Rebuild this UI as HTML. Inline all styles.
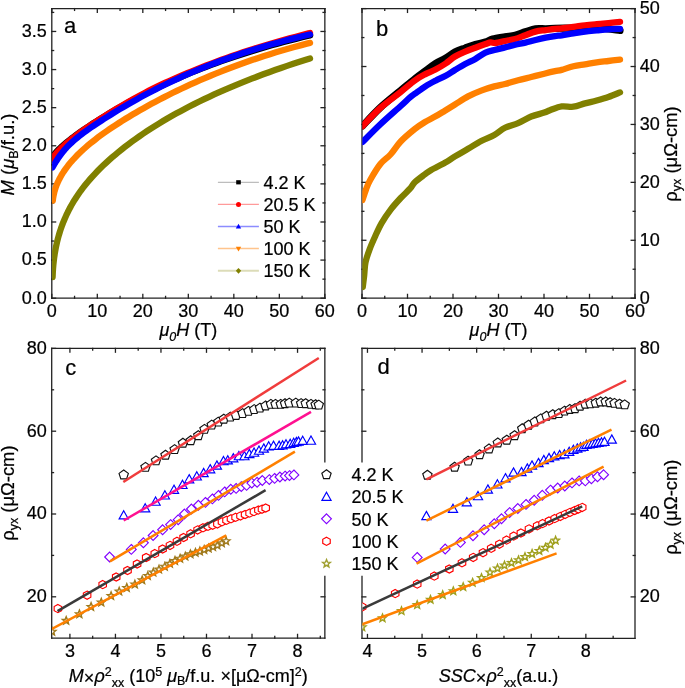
<!DOCTYPE html><html><head><meta charset="utf-8"><style>html,body{margin:0;padding:0;background:#fff;}svg{display:block;will-change:transform;}text{font-family:"Liberation Sans", sans-serif;fill:#000;stroke:#000;stroke-width:0.22px;}</style></head><body>
<svg width="685" height="688" viewBox="0 0 685 688">
<rect width="685" height="688" fill="#fff"/>
<g stroke="#222" stroke-width="1.3" fill="none" stroke-linecap="square">
<line x1="51.8" y1="8.6" x2="324.85" y2="8.6"/><line x1="51.8" y1="298.2" x2="324.85" y2="298.2"/><line x1="51.8" y1="8.6" x2="51.8" y2="298.2"/><line x1="324.85" y1="8.6" x2="324.85" y2="298.2"/>
<line x1="362" y1="8.6" x2="635" y2="8.6"/><line x1="362" y1="298.2" x2="635" y2="298.2"/><line x1="362" y1="8.6" x2="362" y2="298.2"/><line x1="635" y1="8.6" x2="635" y2="298.2"/>
<line x1="51.7" y1="348.4" x2="324.85" y2="348.4"/><line x1="51.7" y1="638.2" x2="324.85" y2="638.2"/><line x1="51.7" y1="348.4" x2="51.7" y2="638.2"/><line x1="324.85" y1="348.4" x2="324.85" y2="461.8"/><line x1="324.85" y1="576.4" x2="324.85" y2="638.2"/>
<line x1="362" y1="348.4" x2="635" y2="348.4"/><line x1="362" y1="638.3" x2="635" y2="638.3"/><line x1="362" y1="348.4" x2="362" y2="461.8"/><line x1="362" y1="576.4" x2="362" y2="638.3"/><line x1="635" y1="348.4" x2="635" y2="638.3"/>
<line x1="51.8" y1="298.2" x2="51.8" y2="294.4"/><line x1="51.8" y1="8.6" x2="51.8" y2="12.4"/><line x1="97.31" y1="298.2" x2="97.31" y2="294.4"/><line x1="97.31" y1="8.6" x2="97.31" y2="12.4"/><line x1="142.82" y1="298.2" x2="142.82" y2="294.4"/><line x1="142.82" y1="8.6" x2="142.82" y2="12.4"/><line x1="188.32" y1="298.2" x2="188.32" y2="294.4"/><line x1="188.32" y1="8.6" x2="188.32" y2="12.4"/><line x1="233.83" y1="298.2" x2="233.83" y2="294.4"/><line x1="233.83" y1="8.6" x2="233.83" y2="12.4"/><line x1="279.34" y1="298.2" x2="279.34" y2="294.4"/><line x1="279.34" y1="8.6" x2="279.34" y2="12.4"/><line x1="324.85" y1="298.2" x2="324.85" y2="294.4"/><line x1="324.85" y1="8.6" x2="324.85" y2="12.4"/><line x1="74.55" y1="298.2" x2="74.55" y2="296.4"/><line x1="74.55" y1="8.6" x2="74.55" y2="10.4"/><line x1="120.06" y1="298.2" x2="120.06" y2="296.4"/><line x1="120.06" y1="8.6" x2="120.06" y2="10.4"/><line x1="165.57" y1="298.2" x2="165.57" y2="296.4"/><line x1="165.57" y1="8.6" x2="165.57" y2="10.4"/><line x1="211.08" y1="298.2" x2="211.08" y2="296.4"/><line x1="211.08" y1="8.6" x2="211.08" y2="10.4"/><line x1="256.59" y1="298.2" x2="256.59" y2="296.4"/><line x1="256.59" y1="8.6" x2="256.59" y2="10.4"/><line x1="302.1" y1="298.2" x2="302.1" y2="296.4"/><line x1="302.1" y1="8.6" x2="302.1" y2="10.4"/>
<line x1="51.8" y1="298.2" x2="55.6" y2="298.2"/><line x1="324.85" y1="298.2" x2="321.05" y2="298.2"/><line x1="51.8" y1="260.09" x2="55.6" y2="260.09"/><line x1="324.85" y1="260.09" x2="321.05" y2="260.09"/><line x1="51.8" y1="221.99" x2="55.6" y2="221.99"/><line x1="324.85" y1="221.99" x2="321.05" y2="221.99"/><line x1="51.8" y1="183.88" x2="55.6" y2="183.88"/><line x1="324.85" y1="183.88" x2="321.05" y2="183.88"/><line x1="51.8" y1="145.78" x2="55.6" y2="145.78"/><line x1="324.85" y1="145.78" x2="321.05" y2="145.78"/><line x1="51.8" y1="107.67" x2="55.6" y2="107.67"/><line x1="324.85" y1="107.67" x2="321.05" y2="107.67"/><line x1="51.8" y1="69.57" x2="55.6" y2="69.57"/><line x1="324.85" y1="69.57" x2="321.05" y2="69.57"/><line x1="51.8" y1="31.46" x2="55.6" y2="31.46"/><line x1="324.85" y1="31.46" x2="321.05" y2="31.46"/><line x1="51.8" y1="279.15" x2="53.6" y2="279.15"/><line x1="324.85" y1="279.15" x2="323.05" y2="279.15"/><line x1="51.8" y1="241.04" x2="53.6" y2="241.04"/><line x1="324.85" y1="241.04" x2="323.05" y2="241.04"/><line x1="51.8" y1="202.94" x2="53.6" y2="202.94"/><line x1="324.85" y1="202.94" x2="323.05" y2="202.94"/><line x1="51.8" y1="164.83" x2="53.6" y2="164.83"/><line x1="324.85" y1="164.83" x2="323.05" y2="164.83"/><line x1="51.8" y1="126.73" x2="53.6" y2="126.73"/><line x1="324.85" y1="126.73" x2="323.05" y2="126.73"/><line x1="51.8" y1="88.62" x2="53.6" y2="88.62"/><line x1="324.85" y1="88.62" x2="323.05" y2="88.62"/><line x1="51.8" y1="50.52" x2="53.6" y2="50.52"/><line x1="324.85" y1="50.52" x2="323.05" y2="50.52"/><line x1="51.8" y1="12.41" x2="53.6" y2="12.41"/><line x1="324.85" y1="12.41" x2="323.05" y2="12.41"/>
<line x1="362" y1="298.2" x2="362" y2="294.4"/><line x1="362" y1="8.6" x2="362" y2="12.4"/><line x1="407.5" y1="298.2" x2="407.5" y2="294.4"/><line x1="407.5" y1="8.6" x2="407.5" y2="12.4"/><line x1="453" y1="298.2" x2="453" y2="294.4"/><line x1="453" y1="8.6" x2="453" y2="12.4"/><line x1="498.5" y1="298.2" x2="498.5" y2="294.4"/><line x1="498.5" y1="8.6" x2="498.5" y2="12.4"/><line x1="544" y1="298.2" x2="544" y2="294.4"/><line x1="544" y1="8.6" x2="544" y2="12.4"/><line x1="589.5" y1="298.2" x2="589.5" y2="294.4"/><line x1="589.5" y1="8.6" x2="589.5" y2="12.4"/><line x1="635" y1="298.2" x2="635" y2="294.4"/><line x1="635" y1="8.6" x2="635" y2="12.4"/><line x1="384.75" y1="298.2" x2="384.75" y2="296.4"/><line x1="384.75" y1="8.6" x2="384.75" y2="10.4"/><line x1="430.25" y1="298.2" x2="430.25" y2="296.4"/><line x1="430.25" y1="8.6" x2="430.25" y2="10.4"/><line x1="475.75" y1="298.2" x2="475.75" y2="296.4"/><line x1="475.75" y1="8.6" x2="475.75" y2="10.4"/><line x1="521.25" y1="298.2" x2="521.25" y2="296.4"/><line x1="521.25" y1="8.6" x2="521.25" y2="10.4"/><line x1="566.75" y1="298.2" x2="566.75" y2="296.4"/><line x1="566.75" y1="8.6" x2="566.75" y2="10.4"/><line x1="612.25" y1="298.2" x2="612.25" y2="296.4"/><line x1="612.25" y1="8.6" x2="612.25" y2="10.4"/>
<line x1="362" y1="298.2" x2="365.8" y2="298.2"/><line x1="635" y1="298.2" x2="631.2" y2="298.2"/><line x1="362" y1="240.28" x2="365.8" y2="240.28"/><line x1="635" y1="240.28" x2="631.2" y2="240.28"/><line x1="362" y1="182.36" x2="365.8" y2="182.36"/><line x1="635" y1="182.36" x2="631.2" y2="182.36"/><line x1="362" y1="124.44" x2="365.8" y2="124.44"/><line x1="635" y1="124.44" x2="631.2" y2="124.44"/><line x1="362" y1="66.52" x2="365.8" y2="66.52"/><line x1="635" y1="66.52" x2="631.2" y2="66.52"/><line x1="362" y1="8.6" x2="365.8" y2="8.6"/><line x1="635" y1="8.6" x2="631.2" y2="8.6"/><line x1="362" y1="269.24" x2="363.8" y2="269.24"/><line x1="635" y1="269.24" x2="633.2" y2="269.24"/><line x1="362" y1="211.32" x2="363.8" y2="211.32"/><line x1="635" y1="211.32" x2="633.2" y2="211.32"/><line x1="362" y1="153.4" x2="363.8" y2="153.4"/><line x1="635" y1="153.4" x2="633.2" y2="153.4"/><line x1="362" y1="95.48" x2="363.8" y2="95.48"/><line x1="635" y1="95.48" x2="633.2" y2="95.48"/><line x1="362" y1="37.56" x2="363.8" y2="37.56"/><line x1="635" y1="37.56" x2="633.2" y2="37.56"/>
<line x1="69.91" y1="638.2" x2="69.91" y2="634.4"/><line x1="69.91" y1="348.4" x2="69.91" y2="352.2"/><line x1="115.44" y1="638.2" x2="115.44" y2="634.4"/><line x1="115.44" y1="348.4" x2="115.44" y2="352.2"/><line x1="160.96" y1="638.2" x2="160.96" y2="634.4"/><line x1="160.96" y1="348.4" x2="160.96" y2="352.2"/><line x1="206.49" y1="638.2" x2="206.49" y2="634.4"/><line x1="206.49" y1="348.4" x2="206.49" y2="352.2"/><line x1="252.01" y1="638.2" x2="252.01" y2="634.4"/><line x1="252.01" y1="348.4" x2="252.01" y2="352.2"/><line x1="297.54" y1="638.2" x2="297.54" y2="634.4"/><line x1="297.54" y1="348.4" x2="297.54" y2="352.2"/><line x1="92.67" y1="638.2" x2="92.67" y2="636.4"/><line x1="92.67" y1="348.4" x2="92.67" y2="350.2"/><line x1="138.2" y1="638.2" x2="138.2" y2="636.4"/><line x1="138.2" y1="348.4" x2="138.2" y2="350.2"/><line x1="183.72" y1="638.2" x2="183.72" y2="636.4"/><line x1="183.72" y1="348.4" x2="183.72" y2="350.2"/><line x1="229.25" y1="638.2" x2="229.25" y2="636.4"/><line x1="229.25" y1="348.4" x2="229.25" y2="350.2"/><line x1="274.77" y1="638.2" x2="274.77" y2="636.4"/><line x1="274.77" y1="348.4" x2="274.77" y2="350.2"/><line x1="320.3" y1="638.2" x2="320.3" y2="636.4"/><line x1="320.3" y1="348.4" x2="320.3" y2="350.2"/>
<line x1="51.7" y1="596.8" x2="55.5" y2="596.8"/><line x1="324.85" y1="596.8" x2="321.05" y2="596.8"/><line x1="51.7" y1="514" x2="55.5" y2="514"/><line x1="51.7" y1="431.2" x2="55.5" y2="431.2"/><line x1="324.85" y1="431.2" x2="321.05" y2="431.2"/><line x1="51.7" y1="348.4" x2="55.5" y2="348.4"/><line x1="324.85" y1="348.4" x2="321.05" y2="348.4"/><line x1="51.7" y1="555.4" x2="53.5" y2="555.4"/><line x1="51.7" y1="472.6" x2="53.5" y2="472.6"/><line x1="51.7" y1="389.8" x2="53.5" y2="389.8"/><line x1="324.85" y1="389.8" x2="323.05" y2="389.8"/>
<line x1="367.46" y1="638.3" x2="367.46" y2="634.5"/><line x1="367.46" y1="348.4" x2="367.46" y2="352.2"/><line x1="422.06" y1="638.3" x2="422.06" y2="634.5"/><line x1="422.06" y1="348.4" x2="422.06" y2="352.2"/><line x1="476.66" y1="638.3" x2="476.66" y2="634.5"/><line x1="476.66" y1="348.4" x2="476.66" y2="352.2"/><line x1="531.26" y1="638.3" x2="531.26" y2="634.5"/><line x1="531.26" y1="348.4" x2="531.26" y2="352.2"/><line x1="585.86" y1="638.3" x2="585.86" y2="634.5"/><line x1="585.86" y1="348.4" x2="585.86" y2="352.2"/><line x1="394.76" y1="638.3" x2="394.76" y2="636.5"/><line x1="394.76" y1="348.4" x2="394.76" y2="350.2"/><line x1="449.36" y1="638.3" x2="449.36" y2="636.5"/><line x1="449.36" y1="348.4" x2="449.36" y2="350.2"/><line x1="503.96" y1="638.3" x2="503.96" y2="636.5"/><line x1="503.96" y1="348.4" x2="503.96" y2="350.2"/><line x1="558.56" y1="638.3" x2="558.56" y2="636.5"/><line x1="558.56" y1="348.4" x2="558.56" y2="350.2"/><line x1="613.16" y1="638.3" x2="613.16" y2="636.5"/><line x1="613.16" y1="348.4" x2="613.16" y2="350.2"/>
<line x1="362" y1="596.89" x2="365.8" y2="596.89"/><line x1="635" y1="596.89" x2="631.2" y2="596.89"/><line x1="635" y1="514.06" x2="631.2" y2="514.06"/><line x1="362" y1="431.23" x2="365.8" y2="431.23"/><line x1="635" y1="431.23" x2="631.2" y2="431.23"/><line x1="362" y1="348.4" x2="365.8" y2="348.4"/><line x1="635" y1="348.4" x2="631.2" y2="348.4"/><line x1="635" y1="555.47" x2="633.2" y2="555.47"/><line x1="635" y1="472.64" x2="633.2" y2="472.64"/><line x1="362" y1="389.81" x2="363.8" y2="389.81"/><line x1="635" y1="389.81" x2="633.2" y2="389.81"/>
</g>
<g>
<text x="46.8" y="303.5" text-anchor="end" font-size="18">0.0</text>
<text x="46.8" y="265.39" text-anchor="end" font-size="18">0.5</text>
<text x="46.8" y="227.29" text-anchor="end" font-size="18">1.0</text>
<text x="46.8" y="189.18" text-anchor="end" font-size="18">1.5</text>
<text x="46.8" y="151.08" text-anchor="end" font-size="18">2.0</text>
<text x="46.8" y="112.97" text-anchor="end" font-size="18">2.5</text>
<text x="46.8" y="74.87" text-anchor="end" font-size="18">3.0</text>
<text x="46.8" y="36.76" text-anchor="end" font-size="18">3.5</text>
<text x="51.8" y="317.3" text-anchor="middle" font-size="18">0</text>
<text x="362" y="317.3" text-anchor="middle" font-size="18">0</text>
<text x="97.31" y="317.3" text-anchor="middle" font-size="18">10</text>
<text x="407.5" y="317.3" text-anchor="middle" font-size="18">10</text>
<text x="142.82" y="317.3" text-anchor="middle" font-size="18">20</text>
<text x="453" y="317.3" text-anchor="middle" font-size="18">20</text>
<text x="188.32" y="317.3" text-anchor="middle" font-size="18">30</text>
<text x="498.5" y="317.3" text-anchor="middle" font-size="18">30</text>
<text x="233.83" y="317.3" text-anchor="middle" font-size="18">40</text>
<text x="544" y="317.3" text-anchor="middle" font-size="18">40</text>
<text x="279.34" y="317.3" text-anchor="middle" font-size="18">50</text>
<text x="589.5" y="317.3" text-anchor="middle" font-size="18">50</text>
<text x="324.85" y="317.3" text-anchor="middle" font-size="18">60</text>
<text x="635" y="317.3" text-anchor="middle" font-size="18">60</text>
<text x="639.7" y="303.5" text-anchor="start" font-size="18">0</text>
<text x="639.7" y="245.58" text-anchor="start" font-size="18">10</text>
<text x="639.7" y="187.66" text-anchor="start" font-size="18">20</text>
<text x="639.7" y="129.74" text-anchor="start" font-size="18">30</text>
<text x="639.7" y="71.82" text-anchor="start" font-size="18">40</text>
<text x="639.7" y="13.9" text-anchor="start" font-size="18">50</text>
<text x="46.8" y="602.1" text-anchor="end" font-size="18">20</text>
<text x="639.7" y="602.19" text-anchor="start" font-size="18">20</text>
<text x="46.8" y="519.3" text-anchor="end" font-size="18">40</text>
<text x="639.7" y="519.36" text-anchor="start" font-size="18">40</text>
<text x="46.8" y="436.5" text-anchor="end" font-size="18">60</text>
<text x="639.7" y="436.53" text-anchor="start" font-size="18">60</text>
<text x="46.8" y="353.7" text-anchor="end" font-size="18">80</text>
<text x="639.7" y="353.7" text-anchor="start" font-size="18">80</text>
<text x="69.91" y="657.1" text-anchor="middle" font-size="18">3</text>
<text x="115.44" y="657.1" text-anchor="middle" font-size="18">4</text>
<text x="160.96" y="657.1" text-anchor="middle" font-size="18">5</text>
<text x="206.49" y="657.1" text-anchor="middle" font-size="18">6</text>
<text x="252.01" y="657.1" text-anchor="middle" font-size="18">7</text>
<text x="297.54" y="657.1" text-anchor="middle" font-size="18">8</text>
<text x="367.46" y="657.2" text-anchor="middle" font-size="18">4</text>
<text x="422.06" y="657.2" text-anchor="middle" font-size="18">5</text>
<text x="476.66" y="657.2" text-anchor="middle" font-size="18">6</text>
<text x="531.26" y="657.2" text-anchor="middle" font-size="18">7</text>
<text x="585.86" y="657.2" text-anchor="middle" font-size="18">8</text>
</g>
<text x="64.1" y="32.9" text-anchor="start" font-size="22">a</text>
<text x="376.1" y="35.6" text-anchor="start" font-size="22">b</text>
<text x="65.3" y="374.6" text-anchor="start" font-size="22">c</text>
<text x="377.5" y="373.8" text-anchor="start" font-size="22">d</text>
<text x="188.33" y="336" text-anchor="middle" font-size="18"><tspan font-style="italic">&#956;</tspan><tspan font-style="italic" font-size="12.5" dy="4.5">0</tspan><tspan font-style="italic" dy="-4.5">H</tspan> (T)</text>
<text x="498.5" y="336" text-anchor="middle" font-size="18"><tspan font-style="italic">&#956;</tspan><tspan font-style="italic" font-size="12.5" dy="4.5">0</tspan><tspan font-style="italic" dy="-4.5">H</tspan> (T)</text>
<text transform="translate(14.2,154.5) rotate(-90)" text-anchor="middle" font-size="18.4"><tspan font-style="italic">M</tspan> (<tspan font-style="italic">&#956;</tspan><tspan font-size="12.5" dy="3.5">B</tspan><tspan dy="-3.5">/f.u.)</tspan></text>
<text transform="translate(14.1,493.1) rotate(-90)" text-anchor="middle" font-size="18.4">&#961;<tspan font-size="12.5" dy="3.5">yx</tspan><tspan dy="-3.5"> (&#956;&#937;-cm)</tspan></text>
<text transform="translate(677.3,154) rotate(-90)" text-anchor="middle" font-size="18.4">&#961;<tspan font-size="12.5" dy="3.5">yx</tspan><tspan dy="-3.5"> (&#956;&#937;-cm)</tspan></text>
<text transform="translate(677.3,507.2) rotate(-90)" text-anchor="middle" font-size="18.4">&#961;<tspan font-size="12.5" dy="3.5">yx</tspan><tspan dy="-3.5"> (&#956;&#937;-cm)</tspan></text>
<text x="188.28" y="681.6" text-anchor="middle" font-size="18"><tspan font-style="italic">M</tspan><tspan dy="2">&#215;</tspan><tspan font-style="italic" dy="-2">&#961;</tspan><tspan font-size="12.5" dy="-6">2</tspan><tspan font-size="12.5" dy="11.5">xx</tspan><tspan dy="-5.5"> (10</tspan><tspan font-size="12.5" dy="-6">5</tspan><tspan dy="6"> </tspan><tspan font-style="italic">&#956;</tspan><tspan font-size="12.5" dy="3.5">B</tspan><tspan dy="-3.5">/f.u. &#215;[&#956;&#937;-cm]</tspan><tspan font-size="12.5" dy="-6">2</tspan><tspan dy="6">)</tspan></text>
<text x="498.5" y="681.6" text-anchor="middle" font-size="18"><tspan font-style="italic">SSC</tspan><tspan dy="2">&#215;</tspan><tspan font-style="italic" dy="-2">&#961;</tspan><tspan font-size="12.5" dy="-6">2</tspan><tspan font-size="12.5" dy="11.5">xx</tspan><tspan dy="-5.5">(a.u.)</tspan></text>
<g clip-path="url(#clipA)">
<clipPath id="clipA"><rect x="52.1" y="8.6" width="273.05" height="289.6"/></clipPath>
<path d="M52.5,158.53 L52.54,158.1 L52.66,157.62 L52.86,157.08 L53.14,156.5 L53.5,155.87 L53.94,155.18 L54.46,154.46 L55.06,153.68 L55.74,152.86 L56.5,151.99 L57.34,151.08 L58.26,150.13 L59.26,149.13 L60.34,148.1 L61.5,147.02 L62.74,145.91 L64.06,144.75 L65.46,143.56 L66.94,142.34 L68.5,141.08 L70.14,139.78 L71.86,138.45 L73.66,137.09 L75.54,135.69 L77.5,134.26 L79.54,132.8 L81.66,131.31 L83.86,129.78 L86.14,128.23 L88.5,126.64 L90.94,125.03 L93.46,123.38 L96.06,121.71 L98.74,120.01 L101.5,118.28 L104.34,116.53 L107.26,114.75 L110.26,112.94 L113.34,111.11 L116.5,109.26 L119.74,107.4 L123.06,105.51 L126.46,103.6 L129.94,101.69 L133.5,99.76 L137.14,97.81 L140.86,95.86 L144.66,93.9 L148.54,91.93 L152.5,89.96 L156.54,87.99 L160.66,86.01 L164.86,84.04 L169.14,82.06 L173.5,80.09 L177.94,78.13 L182.46,76.17 L187.06,74.22 L191.74,72.28 L196.5,70.36 L201.34,68.45 L206.26,66.55 L211.26,64.67 L216.34,62.8 L221.5,60.96 L226.74,59.13 L232.06,57.32 L237.46,55.53 L242.94,53.76 L248.5,52 L254.14,50.27 L259.86,48.55 L265.66,46.86 L271.54,45.19 L277.5,43.54 L283.54,41.91 L289.66,40.3 L295.86,38.71 L302.14,37.15 L308.5,35.61 L310,35.25" fill="none" stroke="#000" stroke-width="6.6" stroke-linecap="round" stroke-linejoin="round"/>
<path d="M52.5,159.48 L52.54,159.11 L52.66,158.67 L52.86,158.17 L53.14,157.61 L53.5,156.99 L53.94,156.32 L54.46,155.59 L55.06,154.8 L55.74,153.96 L56.5,153.07 L57.34,152.13 L58.26,151.13 L59.26,150.09 L60.34,149.01 L61.5,147.87 L62.74,146.7 L64.06,145.47 L65.46,144.21 L66.94,142.91 L68.5,141.57 L70.14,140.2 L71.86,138.79 L73.66,137.35 L75.54,135.89 L77.5,134.39 L79.54,132.87 L81.66,131.33 L83.86,129.77 L86.14,128.18 L88.5,126.57 L90.94,124.93 L93.46,123.26 L96.06,121.57 L98.74,119.84 L101.5,118.08 L104.34,116.29 L107.26,114.46 L110.26,112.6 L113.34,110.71 L116.5,108.8 L119.74,106.86 L123.06,104.9 L126.46,102.93 L129.94,100.94 L133.5,98.94 L137.14,96.94 L140.86,94.93 L144.66,92.92 L148.54,90.91 L152.5,88.91 L156.54,86.92 L160.66,84.94 L164.86,82.97 L169.14,81 L173.5,79.05 L177.94,77.11 L182.46,75.17 L187.06,73.23 L191.74,71.31 L196.5,69.38 L201.34,67.46 L206.26,65.55 L211.26,63.63 L216.34,61.73 L221.5,59.83 L226.74,57.94 L232.06,56.06 L237.46,54.2 L242.94,52.36 L248.5,50.53 L254.14,48.73 L259.86,46.94 L265.66,45.18 L271.54,43.44 L277.5,41.73 L283.54,40.03 L289.66,38.35 L295.86,36.69 L302.14,35.04 L308.5,33.41 L310,33.03" fill="none" stroke="#ff0000" stroke-width="6.3" stroke-linecap="round" stroke-linejoin="round"/>
<path d="M52.5,167.46 L52.54,167.39 L52.66,167.16 L52.86,166.8 L53.14,166.29 L53.5,165.66 L53.94,164.9 L54.46,164.02 L55.06,163.03 L55.74,161.94 L56.5,160.75 L57.34,159.46 L58.26,158.09 L59.26,156.64 L60.34,155.13 L61.5,153.57 L62.74,151.98 L64.06,150.38 L65.46,148.77 L66.94,147.17 L68.5,145.56 L70.14,143.96 L71.86,142.36 L73.66,140.75 L75.54,139.14 L77.5,137.51 L79.54,135.88 L81.66,134.24 L83.86,132.59 L86.14,130.92 L88.5,129.24 L90.94,127.53 L93.46,125.81 L96.06,124.07 L98.74,122.3 L101.5,120.5 L104.34,118.68 L107.26,116.83 L110.26,114.96 L113.34,113.05 L116.5,111.12 L119.74,109.17 L123.06,107.2 L126.46,105.21 L129.94,103.21 L133.5,101.19 L137.14,99.16 L140.86,97.11 L144.66,95.06 L148.54,93 L152.5,90.93 L156.54,88.86 L160.66,86.79 L164.86,84.72 L169.14,82.65 L173.5,80.59 L177.94,78.53 L182.46,76.48 L187.06,74.44 L191.74,72.41 L196.5,70.39 L201.34,68.39 L206.26,66.41 L211.26,64.44 L216.34,62.5 L221.5,60.57 L226.74,58.67 L232.06,56.79 L237.46,54.93 L242.94,53.1 L248.5,51.29 L254.14,49.51 L259.86,47.76 L265.66,46.03 L271.54,44.33 L277.5,42.66 L283.54,41.02 L289.66,39.42 L295.86,37.84 L302.14,36.3 L308.5,34.79 L310,34.45" fill="none" stroke="#0000ff" stroke-width="6.3" stroke-linecap="round" stroke-linejoin="round"/>
<path d="M52.8,200.66 L53.06,198.52 L53.4,196.4 L53.82,194.28 L54.32,192.18 L54.9,190.09 L55.55,188.01 L56.29,185.93 L57.11,183.87 L58.01,181.81 L58.99,179.76 L60.05,177.72 L61.19,175.68 L62.41,173.65 L63.71,171.62 L65.09,169.6 L66.55,167.58 L68.08,165.57 L69.7,163.55 L71.4,161.54 L73.18,159.53 L75.04,157.53 L76.98,155.52 L79,153.51 L81.1,151.5 L83.28,149.49 L85.54,147.48 L87.88,145.47 L90.29,143.45 L92.79,141.43 L95.37,139.4 L98.03,137.37 L100.77,135.34 L103.59,133.3 L106.49,131.25 L109.47,129.2 L112.53,127.13 L115.67,125.06 L118.89,122.99 L122.18,120.9 L125.56,118.8 L129.02,116.69 L132.56,114.57 L136.18,112.44 L139.88,110.3 L143.66,108.15 L147.52,106 L151.46,103.84 L155.48,101.68 L159.58,99.52 L163.75,97.36 L168.01,95.19 L172.35,93.03 L176.77,90.88 L181.27,88.72 L185.85,86.58 L190.51,84.44 L195.25,82.31 L200.07,80.19 L204.97,78.08 L209.95,75.98 L215,73.9 L220.14,71.84 L225.36,69.79 L230.66,67.76 L236.04,65.75 L241.5,63.76 L247.04,61.8 L252.66,59.85 L258.36,57.94 L264.14,56.05 L270,54.18 L275.93,52.35 L281.95,50.55 L288.05,48.78 L294.23,47.04 L300.49,45.34 L306.83,43.67 L310,42.86" fill="none" stroke="#ff8000" stroke-width="6.3" stroke-linecap="round" stroke-linejoin="round"/>
<path d="M52.6,277.18 L52.77,273.04 L53.01,268.98 L53.34,264.98 L53.75,261.05 L54.23,257.18 L54.8,253.38 L55.45,249.64 L56.17,245.95 L56.98,242.33 L57.86,238.76 L58.83,235.24 L59.88,231.78 L61,228.37 L62.21,225.01 L63.5,221.69 L64.86,218.42 L66.31,215.2 L67.84,212.02 L69.44,208.88 L71.13,205.78 L72.9,202.71 L74.74,199.68 L76.67,196.69 L78.68,193.73 L80.76,190.8 L82.93,187.9 L85.18,185.03 L87.5,182.18 L89.91,179.36 L92.39,176.56 L94.96,173.78 L97.61,171.02 L100.33,168.28 L103.14,165.55 L106.03,162.84 L108.99,160.14 L112.04,157.45 L115.17,154.77 L118.37,152.1 L121.66,149.45 L125.03,146.8 L128.47,144.17 L132,141.55 L135.61,138.94 L139.29,136.34 L143.06,133.76 L146.91,131.19 L150.83,128.63 L154.84,126.09 L158.92,123.56 L163.09,121.05 L167.34,118.55 L171.66,116.07 L176.07,113.6 L180.56,111.15 L185.12,108.71 L189.77,106.29 L194.5,103.89 L199.3,101.5 L204.19,99.13 L209.16,96.78 L214.2,94.45 L219.33,92.13 L224.54,89.83 L229.82,87.56 L235.19,85.3 L240.63,83.06 L246.16,80.84 L251.77,78.64 L257.45,76.46 L263.22,74.3 L269.07,72.17 L274.99,70.05 L281,67.96 L287.09,65.88 L293.25,63.83 L299.5,61.81 L305.83,59.8 L310,58.51" fill="none" stroke="#808000" stroke-width="6.3" stroke-linecap="round" stroke-linejoin="round"/>
</g>
<clipPath id="clipB"><rect x="362.3" y="8.6" width="273" height="289.6"/></clipPath>
<g clip-path="url(#clipB)">
<path d="M362.5,126 C365.48,122.92 374.03,113.42 380.4,107.5 C386.77,101.58 394.9,95.33 400.7,90.5 C406.5,85.67 411.08,81.75 415.2,78.5 C419.32,75.25 422.02,73.5 425.4,71 C428.78,68.5 432.12,65.65 435.5,63.5 C438.88,61.35 442.45,60.02 445.7,58.1 C448.95,56.18 451.75,53.68 455,52 C458.25,50.32 461.8,49.27 465.2,48 C468.6,46.73 472.02,45.4 475.4,44.4 C478.78,43.4 482.62,42.9 485.5,42 C488.38,41.1 489.45,39.87 492.7,39 C495.95,38.13 501.25,37.43 505,36.8 C508.75,36.17 511.8,36.03 515.2,35.2 C518.6,34.37 522.02,32.87 525.4,31.8 C528.78,30.73 532.12,29.3 535.5,28.8 C538.88,28.3 542.45,28.87 545.7,28.8 C548.95,28.73 550.38,28.53 555,28.4 C559.62,28.27 568.4,28.15 573.4,28 C578.4,27.85 580.57,27.5 585,27.5 C589.43,27.5 594.17,27.5 600,28 C605.83,28.5 616.67,30.08 620,30.5" fill="none" stroke="#000" stroke-width="7.2" stroke-linecap="round" stroke-linejoin="round"/>
<path d="M362.5,126.2 C365.48,123.15 374.03,113.6 380.4,107.9 C386.77,102.2 394.9,96.62 400.7,92 C406.5,87.38 411.08,83.18 415.2,80.2 C419.32,77.22 422.02,75.88 425.4,74.1 C428.78,72.32 432.12,71.27 435.5,69.5 C438.88,67.73 442.45,65.67 445.7,63.5 C448.95,61.33 451.75,58.48 455,56.5 C458.25,54.52 461.8,53.07 465.2,51.6 C468.6,50.13 472.02,48.95 475.4,47.7 C478.78,46.45 482.97,44.98 485.5,44.1 C488.03,43.22 488.9,42.58 490.6,42.4 C492.3,42.22 493.3,43.23 495.7,43 C498.1,42.77 501.75,41.67 505,41 C508.25,40.33 511.8,39.97 515.2,39 C518.6,38.03 522.02,36.43 525.4,35.2 C528.78,33.97 532.12,32.45 535.5,31.6 C538.88,30.75 542.45,30.57 545.7,30.1 C548.95,29.63 552.33,29.1 555,28.8 C557.67,28.5 558.63,28.62 561.7,28.3 C564.77,27.98 569.52,27.38 573.4,26.9 C577.28,26.42 581.12,25.85 585,25.4 C588.88,24.95 592.8,24.58 596.7,24.2 C600.6,23.82 604.52,23.5 608.4,23.1 C612.28,22.7 618.07,22.02 620,21.8" fill="none" stroke="#ff0000" stroke-width="6.3" stroke-linecap="round" stroke-linejoin="round"/>
<path d="M362.5,142 C365.48,139.05 374.03,130.3 380.4,124.3 C386.77,118.3 395.77,110.48 400.7,106 C405.63,101.52 407.58,99.48 410,97.4 C412.42,95.32 412.63,95.35 415.2,93.5 C417.77,91.65 422.02,88.43 425.4,86.3 C428.78,84.17 432.12,82.45 435.5,80.7 C438.88,78.95 442.45,77.58 445.7,75.8 C448.95,74.02 451.75,71.97 455,70 C458.25,68.03 461.8,65.85 465.2,64 C468.6,62.15 472.02,60.8 475.4,58.9 C478.78,57 482.12,54.13 485.5,52.6 C488.88,51.07 492.45,50.57 495.7,49.7 C498.95,48.83 501.75,48.22 505,47.4 C508.25,46.58 511.8,45.6 515.2,44.8 C518.6,44 522.02,43.4 525.4,42.6 C528.78,41.8 532.12,40.82 535.5,40 C538.88,39.18 542.45,38.35 545.7,37.7 C548.95,37.05 552.33,36.5 555,36.1 C557.67,35.7 558.63,35.75 561.7,35.3 C564.77,34.85 569.52,34.02 573.4,33.4 C577.28,32.78 581.12,32.1 585,31.6 C588.88,31.1 592.8,30.78 596.7,30.4 C600.6,30.02 604.52,29.55 608.4,29.3 C612.28,29.05 618.07,28.97 620,28.9" fill="none" stroke="#0000ff" stroke-width="6.3" stroke-linecap="round" stroke-linejoin="round"/>
<path d="M362.5,200 C363.08,198.25 364.72,192.83 366,189.5 C367.28,186.17 367.8,184.25 370.2,180 C372.6,175.75 377.02,168.25 380.4,164 C383.78,159.75 387.12,158.25 390.5,154.5 C393.88,150.75 396.65,145.75 400.7,141.5 C404.75,137.25 410.82,132.2 414.8,129 C418.78,125.8 421.22,124.37 424.6,122.3 C427.98,120.23 431.72,118.53 435.1,116.6 C438.48,114.67 441.58,112.72 444.9,110.7 C448.22,108.68 451.13,106.88 455,104.5 C458.87,102.12 463.73,98.72 468.1,96.4 C472.47,94.08 476.83,92.27 481.2,90.6 C485.57,88.93 490.33,87.5 494.3,86.4 C498.27,85.3 501.03,85.02 505,84 C508.97,82.98 513.73,81.47 518.1,80.3 C522.47,79.13 526.83,78.1 531.2,77 C535.57,75.9 540.33,74.67 544.3,73.7 C548.27,72.73 552.1,71.83 555,71.2 C557.9,70.57 558.63,70.73 561.7,69.9 C564.77,69.07 569.52,67.13 573.4,66.2 C577.28,65.27 581.12,64.93 585,64.3 C588.88,63.67 592.8,62.95 596.7,62.4 C600.6,61.85 604.52,61.47 608.4,61 C612.28,60.53 618.07,59.83 620,59.6" fill="none" stroke="#ff8000" stroke-width="6.3" stroke-linecap="round" stroke-linejoin="round"/>
<path d="M362.8,287 C363.03,285.07 363.75,279.5 364.2,275.4 C364.65,271.3 364.6,266.75 365.5,262.4 C366.4,258.05 367.98,253.67 369.6,249.3 C371.22,244.93 373.2,240.57 375.2,236.2 C377.2,231.83 379.05,227.5 381.6,223.1 C384.15,218.7 387.32,213.98 390.5,209.8 C393.68,205.62 397.45,201.52 400.7,198 C403.95,194.48 407.65,191.32 410,188.7 C412.35,186.08 412.37,184.65 414.8,182.3 C417.23,179.95 421.87,176.65 424.6,174.6 C427.33,172.55 427.82,171.97 431.2,170 C434.58,168.03 440.93,165.07 444.9,162.8 C448.87,160.53 451.13,158.73 455,156.4 C458.87,154.07 463.73,151.37 468.1,148.8 C472.47,146.23 476.83,143.3 481.2,141 C485.57,138.7 490.33,137.2 494.3,135 C498.27,132.8 501.03,129.78 505,127.8 C508.97,125.82 513.73,124.98 518.1,123.1 C522.47,121.22 526.83,118.25 531.2,116.5 C535.57,114.75 541.17,113.65 544.3,112.6 C547.43,111.55 547.1,111.23 550,110.2 C552.9,109.17 557.8,106.98 561.7,106.4 C565.6,105.82 569.52,107.2 573.4,106.7 C577.28,106.2 581.12,104.43 585,103.4 C588.88,102.37 592.8,101.57 596.7,100.5 C600.6,99.43 604.52,98.35 608.4,97 C612.28,95.65 618.07,93.17 620,92.4" fill="none" stroke="#808000" stroke-width="6.3" stroke-linecap="round" stroke-linejoin="round"/>
</g>
<clipPath id="clipC"><rect x="52.1" y="348.4" width="273.15" height="289.4"/></clipPath>
<g clip-path="url(#clipC)">
<path d="M123.7,470 L128.36,473.39 L126.58,478.86 L120.82,478.86 L119.04,473.39Z" fill="#fff" stroke="#111" stroke-width="1.15" stroke-linejoin="miter"/><path d="M145.5,462.4 L150.16,465.79 L148.38,471.26 L142.62,471.26 L140.84,465.79Z" fill="#fff" stroke="#111" stroke-width="1.15" stroke-linejoin="miter"/><path d="M156,455.9 L160.66,459.29 L158.88,464.76 L153.12,464.76 L151.34,459.29Z" fill="#fff" stroke="#111" stroke-width="1.15" stroke-linejoin="miter"/><path d="M165.5,450.3 L170.16,453.69 L168.38,459.16 L162.62,459.16 L160.84,453.69Z" fill="#fff" stroke="#111" stroke-width="1.15" stroke-linejoin="miter"/><path d="M174.6,444.6 L179.26,447.99 L177.48,453.46 L171.72,453.46 L169.94,447.99Z" fill="#fff" stroke="#111" stroke-width="1.15" stroke-linejoin="miter"/><path d="M182.9,438.3 L187.56,441.69 L185.78,447.16 L180.02,447.16 L178.24,441.69Z" fill="#fff" stroke="#111" stroke-width="1.15" stroke-linejoin="miter"/><path d="M190.7,435.8 L195.36,439.19 L193.58,444.66 L187.82,444.66 L186.04,439.19Z" fill="#fff" stroke="#111" stroke-width="1.15" stroke-linejoin="miter"/><path d="M198.3,430.7 L202.96,434.09 L201.18,439.56 L195.42,439.56 L193.64,434.09Z" fill="#fff" stroke="#111" stroke-width="1.15" stroke-linejoin="miter"/><path d="M204.5,424.4 L209.16,427.79 L207.38,433.26 L201.62,433.26 L199.84,427.79Z" fill="#fff" stroke="#111" stroke-width="1.15" stroke-linejoin="miter"/><path d="M211.7,420.1 L216.36,423.49 L214.58,428.96 L208.82,428.96 L207.04,423.49Z" fill="#fff" stroke="#111" stroke-width="1.15" stroke-linejoin="miter"/><path d="M218.3,417.1 L222.96,420.49 L221.18,425.96 L215.42,425.96 L213.64,420.49Z" fill="#fff" stroke="#111" stroke-width="1.15" stroke-linejoin="miter"/><path d="M223.8,414.2 L228.46,417.59 L226.68,423.06 L220.92,423.06 L219.14,417.59Z" fill="#fff" stroke="#111" stroke-width="1.15" stroke-linejoin="miter"/><path d="M230.4,412.1 L235.06,415.49 L233.28,420.96 L227.52,420.96 L225.74,415.49Z" fill="#fff" stroke="#111" stroke-width="1.15" stroke-linejoin="miter"/><path d="M236,410.5 L240.66,413.89 L238.88,419.36 L233.12,419.36 L231.34,413.89Z" fill="#fff" stroke="#111" stroke-width="1.15" stroke-linejoin="miter"/><path d="M242.6,408.6 L247.26,411.99 L245.48,417.46 L239.72,417.46 L237.94,411.99Z" fill="#fff" stroke="#111" stroke-width="1.15" stroke-linejoin="miter"/><path d="M248.5,406.4 L253.16,409.79 L251.38,415.26 L245.62,415.26 L243.84,409.79Z" fill="#fff" stroke="#111" stroke-width="1.15" stroke-linejoin="miter"/><path d="M254.2,404.6 L258.86,407.99 L257.08,413.46 L251.32,413.46 L249.54,407.99Z" fill="#fff" stroke="#111" stroke-width="1.15" stroke-linejoin="miter"/><path d="M260,403.1 L264.66,406.49 L262.88,411.96 L257.12,411.96 L255.34,406.49Z" fill="#fff" stroke="#111" stroke-width="1.15" stroke-linejoin="miter"/><path d="M265.6,401 L270.26,404.39 L268.48,409.86 L262.72,409.86 L260.94,404.39Z" fill="#fff" stroke="#111" stroke-width="1.15" stroke-linejoin="miter"/><path d="M270.9,399.4 L275.56,402.79 L273.78,408.26 L268.02,408.26 L266.24,402.79Z" fill="#fff" stroke="#111" stroke-width="1.15" stroke-linejoin="miter"/><path d="M275.5,399.4 L280.16,402.79 L278.38,408.26 L272.62,408.26 L270.84,402.79Z" fill="#fff" stroke="#111" stroke-width="1.15" stroke-linejoin="miter"/><path d="M280.7,399.4 L285.36,402.79 L283.58,408.26 L277.82,408.26 L276.04,402.79Z" fill="#fff" stroke="#111" stroke-width="1.15" stroke-linejoin="miter"/><path d="M285,398.8 L289.66,402.19 L287.88,407.66 L282.12,407.66 L280.34,402.19Z" fill="#fff" stroke="#111" stroke-width="1.15" stroke-linejoin="miter"/><path d="M289.3,398.1 L293.96,401.49 L292.18,406.96 L286.42,406.96 L284.64,401.49Z" fill="#fff" stroke="#111" stroke-width="1.15" stroke-linejoin="miter"/><path d="M295.8,398.1 L300.46,401.49 L298.68,406.96 L292.92,406.96 L291.14,401.49Z" fill="#fff" stroke="#111" stroke-width="1.15" stroke-linejoin="miter"/><path d="M301.1,398.6 L305.76,401.99 L303.98,407.46 L298.22,407.46 L296.44,401.99Z" fill="#fff" stroke="#111" stroke-width="1.15" stroke-linejoin="miter"/><path d="M305.7,398.7 L310.36,402.09 L308.58,407.56 L302.82,407.56 L301.04,402.09Z" fill="#fff" stroke="#111" stroke-width="1.15" stroke-linejoin="miter"/><path d="M311,399.4 L315.66,402.79 L313.88,408.26 L308.12,408.26 L306.34,402.79Z" fill="#fff" stroke="#111" stroke-width="1.15" stroke-linejoin="miter"/><path d="M315.6,399.8 L320.26,403.19 L318.48,408.66 L312.72,408.66 L310.94,403.19Z" fill="#fff" stroke="#111" stroke-width="1.15" stroke-linejoin="miter"/><path d="M318.8,400.1 L323.46,403.49 L321.68,408.96 L315.92,408.96 L314.14,403.49Z" fill="#fff" stroke="#111" stroke-width="1.15" stroke-linejoin="miter"/>
<line x1="123.3" y1="482" x2="318.8" y2="358" stroke="#f03c3c" stroke-width="2.5" stroke-linecap="butt"/>
<path d="M123.7,510.7 L128.3,518.9 L119.1,518.9 Z" fill="#fff" stroke="#0000ff" stroke-width="1.15" stroke-linejoin="miter"/><path d="M145.2,503.7 L149.8,511.9 L140.6,511.9 Z" fill="#fff" stroke="#0000ff" stroke-width="1.15" stroke-linejoin="miter"/><path d="M155.6,497 L160.2,505.2 L151,505.2 Z" fill="#fff" stroke="#0000ff" stroke-width="1.15" stroke-linejoin="miter"/><path d="M164.9,490.8 L169.5,499 L160.3,499 Z" fill="#fff" stroke="#0000ff" stroke-width="1.15" stroke-linejoin="miter"/><path d="M174,485.1 L178.6,493.3 L169.4,493.3 Z" fill="#fff" stroke="#0000ff" stroke-width="1.15" stroke-linejoin="miter"/><path d="M182.5,480.3 L187.1,488.5 L177.9,488.5 Z" fill="#fff" stroke="#0000ff" stroke-width="1.15" stroke-linejoin="miter"/><path d="M189.2,474.6 L193.8,482.8 L184.6,482.8 Z" fill="#fff" stroke="#0000ff" stroke-width="1.15" stroke-linejoin="miter"/><path d="M196.8,471.8 L201.4,480 L192.2,480 Z" fill="#fff" stroke="#0000ff" stroke-width="1.15" stroke-linejoin="miter"/><path d="M203.6,468.4 L208.2,476.6 L199,476.6 Z" fill="#fff" stroke="#0000ff" stroke-width="1.15" stroke-linejoin="miter"/><path d="M210.2,464.6 L214.8,472.8 L205.6,472.8 Z" fill="#fff" stroke="#0000ff" stroke-width="1.15" stroke-linejoin="miter"/><path d="M216.9,460.9 L221.5,469.1 L212.3,469.1 Z" fill="#fff" stroke="#0000ff" stroke-width="1.15" stroke-linejoin="miter"/><path d="M223.5,456.5 L228.1,464.7 L218.9,464.7 Z" fill="#fff" stroke="#0000ff" stroke-width="1.15" stroke-linejoin="miter"/><path d="M227.8,455.7 L232.4,463.9 L223.2,463.9 Z" fill="#fff" stroke="#0000ff" stroke-width="1.15" stroke-linejoin="miter"/><path d="M233.3,453.6 L237.9,461.8 L228.7,461.8 Z" fill="#fff" stroke="#0000ff" stroke-width="1.15" stroke-linejoin="miter"/><path d="M238.9,451.5 L243.5,459.7 L234.3,459.7 Z" fill="#fff" stroke="#0000ff" stroke-width="1.15" stroke-linejoin="miter"/><path d="M244.4,451.5 L249,459.7 L239.8,459.7 Z" fill="#fff" stroke="#0000ff" stroke-width="1.15" stroke-linejoin="miter"/><path d="M249.3,449.4 L253.9,457.6 L244.7,457.6 Z" fill="#fff" stroke="#0000ff" stroke-width="1.15" stroke-linejoin="miter"/><path d="M254.1,448 L258.7,456.2 L249.5,456.2 Z" fill="#fff" stroke="#0000ff" stroke-width="1.15" stroke-linejoin="miter"/><path d="M259,446 L263.6,454.2 L254.4,454.2 Z" fill="#fff" stroke="#0000ff" stroke-width="1.15" stroke-linejoin="miter"/><path d="M263.8,443.9 L268.4,452.1 L259.2,452.1 Z" fill="#fff" stroke="#0000ff" stroke-width="1.15" stroke-linejoin="miter"/><path d="M268.7,441.8 L273.3,450 L264.1,450 Z" fill="#fff" stroke="#0000ff" stroke-width="1.15" stroke-linejoin="miter"/><path d="M273.5,441.1 L278.1,449.3 L268.9,449.3 Z" fill="#fff" stroke="#0000ff" stroke-width="1.15" stroke-linejoin="miter"/><path d="M279.1,441.1 L283.7,449.3 L274.5,449.3 Z" fill="#fff" stroke="#0000ff" stroke-width="1.15" stroke-linejoin="miter"/><path d="M282.6,440.7 L287.2,448.9 L278,448.9 Z" fill="#fff" stroke="#0000ff" stroke-width="1.15" stroke-linejoin="miter"/><path d="M286,439.7 L290.6,447.9 L281.4,447.9 Z" fill="#fff" stroke="#0000ff" stroke-width="1.15" stroke-linejoin="miter"/><path d="M290.2,439.3 L294.8,447.5 L285.6,447.5 Z" fill="#fff" stroke="#0000ff" stroke-width="1.15" stroke-linejoin="miter"/><path d="M293.7,438.3 L298.3,446.5 L289.1,446.5 Z" fill="#fff" stroke="#0000ff" stroke-width="1.15" stroke-linejoin="miter"/><path d="M296.4,437.4 L301,445.6 L291.8,445.6 Z" fill="#fff" stroke="#0000ff" stroke-width="1.15" stroke-linejoin="miter"/><path d="M298.5,436.9 L303.1,445.1 L293.9,445.1 Z" fill="#fff" stroke="#0000ff" stroke-width="1.15" stroke-linejoin="miter"/><path d="M302.7,436.2 L307.3,444.4 L298.1,444.4 Z" fill="#fff" stroke="#0000ff" stroke-width="1.15" stroke-linejoin="miter"/><path d="M311,436 L315.6,444.2 L306.4,444.2 Z" fill="#fff" stroke="#0000ff" stroke-width="1.15" stroke-linejoin="miter"/>
<line x1="123.7" y1="520.5" x2="311" y2="411.9" stroke="#ff1090" stroke-width="2.5" stroke-linecap="butt"/>
<path d="M109.6,552.1 L114.5,557 L109.6,561.9 L104.7,557 Z" fill="#fff" stroke="#8000ff" stroke-width="1.15" stroke-linejoin="miter"/><path d="M131.3,544.5 L136.2,549.4 L131.3,554.3 L126.4,549.4 Z" fill="#fff" stroke="#8000ff" stroke-width="1.15" stroke-linejoin="miter"/><path d="M143.4,537.9 L148.3,542.8 L143.4,547.7 L138.5,542.8 Z" fill="#fff" stroke="#8000ff" stroke-width="1.15" stroke-linejoin="miter"/><path d="M153.1,530.6 L158,535.5 L153.1,540.4 L148.2,535.5 Z" fill="#fff" stroke="#8000ff" stroke-width="1.15" stroke-linejoin="miter"/><path d="M162.6,524.9 L167.5,529.8 L162.6,534.7 L157.7,529.8 Z" fill="#fff" stroke="#8000ff" stroke-width="1.15" stroke-linejoin="miter"/><path d="M170.6,519.7 L175.5,524.6 L170.6,529.5 L165.7,524.6 Z" fill="#fff" stroke="#8000ff" stroke-width="1.15" stroke-linejoin="miter"/><path d="M178.2,514.8 L183.1,519.7 L178.2,524.6 L173.3,519.7 Z" fill="#fff" stroke="#8000ff" stroke-width="1.15" stroke-linejoin="miter"/><path d="M184.4,509.1 L189.3,514 L184.4,518.9 L179.5,514 Z" fill="#fff" stroke="#8000ff" stroke-width="1.15" stroke-linejoin="miter"/><path d="M191.4,504.1 L196.3,509 L191.4,513.9 L186.5,509 Z" fill="#fff" stroke="#8000ff" stroke-width="1.15" stroke-linejoin="miter"/><path d="M198.4,500.4 L203.3,505.3 L198.4,510.2 L193.5,505.3 Z" fill="#fff" stroke="#8000ff" stroke-width="1.15" stroke-linejoin="miter"/><path d="M205.4,497.5 L210.3,502.4 L205.4,507.3 L200.5,502.4 Z" fill="#fff" stroke="#8000ff" stroke-width="1.15" stroke-linejoin="miter"/><path d="M212.4,494 L217.3,498.9 L212.4,503.8 L207.5,498.9 Z" fill="#fff" stroke="#8000ff" stroke-width="1.15" stroke-linejoin="miter"/><path d="M218.5,490.5 L223.4,495.4 L218.5,500.3 L213.6,495.4 Z" fill="#fff" stroke="#8000ff" stroke-width="1.15" stroke-linejoin="miter"/><path d="M224.7,487 L229.6,491.9 L224.7,496.8 L219.8,491.9 Z" fill="#fff" stroke="#8000ff" stroke-width="1.15" stroke-linejoin="miter"/><path d="M230.8,484.4 L235.7,489.3 L230.8,494.2 L225.9,489.3 Z" fill="#fff" stroke="#8000ff" stroke-width="1.15" stroke-linejoin="miter"/><path d="M236.1,483.5 L241,488.4 L236.1,493.3 L231.2,488.4 Z" fill="#fff" stroke="#8000ff" stroke-width="1.15" stroke-linejoin="miter"/><path d="M241.3,481.7 L246.2,486.6 L241.3,491.5 L236.4,486.6 Z" fill="#fff" stroke="#8000ff" stroke-width="1.15" stroke-linejoin="miter"/><path d="M246.6,480.5 L251.5,485.4 L246.6,490.3 L241.7,485.4 Z" fill="#fff" stroke="#8000ff" stroke-width="1.15" stroke-linejoin="miter"/><path d="M251.8,478.2 L256.7,483.1 L251.8,488 L246.9,483.1 Z" fill="#fff" stroke="#8000ff" stroke-width="1.15" stroke-linejoin="miter"/><path d="M257.1,477.4 L262,482.3 L257.1,487.2 L252.2,482.3 Z" fill="#fff" stroke="#8000ff" stroke-width="1.15" stroke-linejoin="miter"/><path d="M262.3,475.6 L267.2,480.5 L262.3,485.4 L257.4,480.5 Z" fill="#fff" stroke="#8000ff" stroke-width="1.15" stroke-linejoin="miter"/><path d="M269.3,474.7 L274.2,479.6 L269.3,484.5 L264.4,479.6 Z" fill="#fff" stroke="#8000ff" stroke-width="1.15" stroke-linejoin="miter"/><path d="M274.6,473.5 L279.5,478.4 L274.6,483.3 L269.7,478.4 Z" fill="#fff" stroke="#8000ff" stroke-width="1.15" stroke-linejoin="miter"/><path d="M279.9,472.1 L284.8,477 L279.9,481.9 L275,477 Z" fill="#fff" stroke="#8000ff" stroke-width="1.15" stroke-linejoin="miter"/><path d="M285.1,471.2 L290,476.1 L285.1,481 L280.2,476.1 Z" fill="#fff" stroke="#8000ff" stroke-width="1.15" stroke-linejoin="miter"/><path d="M289.5,470.7 L294.4,475.6 L289.5,480.5 L284.6,475.6 Z" fill="#fff" stroke="#8000ff" stroke-width="1.15" stroke-linejoin="miter"/><path d="M293.9,470 L298.8,474.9 L293.9,479.8 L289,474.9 Z" fill="#fff" stroke="#8000ff" stroke-width="1.15" stroke-linejoin="miter"/>
<line x1="110" y1="561.4" x2="294.9" y2="451.7" stroke="#ff8000" stroke-width="2.5" stroke-linecap="butt"/>
<path d="M57.9,604.5 L61.65,606.55 L61.65,610.65 L57.9,612.7 L54.15,610.65 L54.15,606.55Z" fill="#fff" stroke="#ff0000" stroke-width="1.15" stroke-linejoin="miter"/><path d="M87.1,591.1 L90.85,593.15 L90.85,597.25 L87.1,599.3 L83.35,597.25 L83.35,593.15Z" fill="#fff" stroke="#ff0000" stroke-width="1.15" stroke-linejoin="miter"/><path d="M102.7,580.5 L106.45,582.55 L106.45,586.65 L102.7,588.7 L98.95,586.65 L98.95,582.55Z" fill="#fff" stroke="#ff0000" stroke-width="1.15" stroke-linejoin="miter"/><path d="M116.2,572.9 L119.95,574.95 L119.95,579.05 L116.2,581.1 L112.45,579.05 L112.45,574.95Z" fill="#fff" stroke="#ff0000" stroke-width="1.15" stroke-linejoin="miter"/><path d="M127.5,566.4 L131.25,568.45 L131.25,572.55 L127.5,574.6 L123.75,572.55 L123.75,568.45Z" fill="#fff" stroke="#ff0000" stroke-width="1.15" stroke-linejoin="miter"/><path d="M137.1,559.9 L140.85,561.95 L140.85,566.05 L137.1,568.1 L133.35,566.05 L133.35,561.95Z" fill="#fff" stroke="#ff0000" stroke-width="1.15" stroke-linejoin="miter"/><path d="M146.2,553.4 L149.95,555.45 L149.95,559.55 L146.2,561.6 L142.45,559.55 L142.45,555.45Z" fill="#fff" stroke="#ff0000" stroke-width="1.15" stroke-linejoin="miter"/><path d="M154.8,549.5 L158.55,551.55 L158.55,555.65 L154.8,557.7 L151.05,555.65 L151.05,551.55Z" fill="#fff" stroke="#ff0000" stroke-width="1.15" stroke-linejoin="miter"/><path d="M162.6,544.9 L166.35,546.95 L166.35,551.05 L162.6,553.1 L158.85,551.05 L158.85,546.95Z" fill="#fff" stroke="#ff0000" stroke-width="1.15" stroke-linejoin="miter"/><path d="M170,541.3 L173.75,543.35 L173.75,547.45 L170,549.5 L166.25,547.45 L166.25,543.35Z" fill="#fff" stroke="#ff0000" stroke-width="1.15" stroke-linejoin="miter"/><path d="M177,537.2 L180.75,539.25 L180.75,543.35 L177,545.4 L173.25,543.35 L173.25,539.25Z" fill="#fff" stroke="#ff0000" stroke-width="1.15" stroke-linejoin="miter"/><path d="M183.6,533.4 L187.35,535.45 L187.35,539.55 L183.6,541.6 L179.85,539.55 L179.85,535.45Z" fill="#fff" stroke="#ff0000" stroke-width="1.15" stroke-linejoin="miter"/><path d="M190.6,529.7 L194.35,531.75 L194.35,535.85 L190.6,537.9 L186.85,535.85 L186.85,531.75Z" fill="#fff" stroke="#ff0000" stroke-width="1.15" stroke-linejoin="miter"/><path d="M197.6,525.8 L201.35,527.85 L201.35,531.95 L197.6,534 L193.85,531.95 L193.85,527.85Z" fill="#fff" stroke="#ff0000" stroke-width="1.15" stroke-linejoin="miter"/><path d="M203,523.7 L206.75,525.75 L206.75,529.85 L203,531.9 L199.25,529.85 L199.25,525.75Z" fill="#fff" stroke="#ff0000" stroke-width="1.15" stroke-linejoin="miter"/><path d="M208,522.2 L211.75,524.25 L211.75,528.35 L208,530.4 L204.25,528.35 L204.25,524.25Z" fill="#fff" stroke="#ff0000" stroke-width="1.15" stroke-linejoin="miter"/><path d="M212.7,521.1 L216.45,523.15 L216.45,527.25 L212.7,529.3 L208.95,527.25 L208.95,523.15Z" fill="#fff" stroke="#ff0000" stroke-width="1.15" stroke-linejoin="miter"/><path d="M217.4,519.8 L221.15,521.85 L221.15,525.95 L217.4,528 L213.65,525.95 L213.65,521.85Z" fill="#fff" stroke="#ff0000" stroke-width="1.15" stroke-linejoin="miter"/><path d="M222,517.7 L225.75,519.75 L225.75,523.85 L222,525.9 L218.25,523.85 L218.25,519.75Z" fill="#fff" stroke="#ff0000" stroke-width="1.15" stroke-linejoin="miter"/><path d="M226.5,516.2 L230.25,518.25 L230.25,522.35 L226.5,524.4 L222.75,522.35 L222.75,518.25Z" fill="#fff" stroke="#ff0000" stroke-width="1.15" stroke-linejoin="miter"/><path d="M231,514.7 L234.75,516.75 L234.75,520.85 L231,522.9 L227.25,520.85 L227.25,516.75Z" fill="#fff" stroke="#ff0000" stroke-width="1.15" stroke-linejoin="miter"/><path d="M235.6,513.2 L239.35,515.25 L239.35,519.35 L235.6,521.4 L231.85,519.35 L231.85,515.25Z" fill="#fff" stroke="#ff0000" stroke-width="1.15" stroke-linejoin="miter"/><path d="M240.5,511.8 L244.25,513.85 L244.25,517.95 L240.5,520 L236.75,517.95 L236.75,513.85Z" fill="#fff" stroke="#ff0000" stroke-width="1.15" stroke-linejoin="miter"/><path d="M245.1,510.4 L248.85,512.45 L248.85,516.55 L245.1,518.6 L241.35,516.55 L241.35,512.45Z" fill="#fff" stroke="#ff0000" stroke-width="1.15" stroke-linejoin="miter"/><path d="M249.6,509 L253.35,511.05 L253.35,515.15 L249.6,517.2 L245.85,515.15 L245.85,511.05Z" fill="#fff" stroke="#ff0000" stroke-width="1.15" stroke-linejoin="miter"/><path d="M254,507.5 L257.75,509.55 L257.75,513.65 L254,515.7 L250.25,513.65 L250.25,509.55Z" fill="#fff" stroke="#ff0000" stroke-width="1.15" stroke-linejoin="miter"/><path d="M258.4,506 L262.15,508.05 L262.15,512.15 L258.4,514.2 L254.65,512.15 L254.65,508.05Z" fill="#fff" stroke="#ff0000" stroke-width="1.15" stroke-linejoin="miter"/><path d="M262,505.1 L265.75,507.15 L265.75,511.25 L262,513.3 L258.25,511.25 L258.25,507.15Z" fill="#fff" stroke="#ff0000" stroke-width="1.15" stroke-linejoin="miter"/><path d="M265.7,503.9 L269.45,505.95 L269.45,510.05 L265.7,512.1 L261.95,510.05 L261.95,505.95Z" fill="#fff" stroke="#ff0000" stroke-width="1.15" stroke-linejoin="miter"/>
<line x1="57.5" y1="611.2" x2="265.6" y2="490.2" stroke="#3a3a3a" stroke-width="2.5" stroke-linecap="butt"/>
<path d="M52.1,627.6 L53.13,630.18 L55.9,630.36 L53.76,632.14 L54.45,634.84 L52.1,633.35 L49.75,634.84 L50.44,632.14 L48.3,630.36 L51.07,630.18Z" fill="#fff" stroke="#a07a1c" stroke-width="1.45" stroke-linejoin="miter"/><path d="M66.2,616.7 L67.23,619.28 L70,619.46 L67.86,621.24 L68.55,623.94 L66.2,622.45 L63.85,623.94 L64.54,621.24 L62.4,619.46 L65.17,619.28Z" fill="#fff" stroke="#a07a1c" stroke-width="1.45" stroke-linejoin="miter"/><path d="M79.4,610.1 L80.43,612.68 L83.2,612.86 L81.06,614.64 L81.75,617.34 L79.4,615.85 L77.05,617.34 L77.74,614.64 L75.6,612.86 L78.37,612.68Z" fill="#fff" stroke="#a07a1c" stroke-width="1.45" stroke-linejoin="miter"/><path d="M91.1,602.8 L92.13,605.38 L94.9,605.56 L92.76,607.34 L93.45,610.04 L91.1,608.55 L88.75,610.04 L89.44,607.34 L87.3,605.56 L90.07,605.38Z" fill="#fff" stroke="#a07a1c" stroke-width="1.45" stroke-linejoin="miter"/><path d="M101.3,598.4 L102.33,600.98 L105.1,601.16 L102.96,602.94 L103.65,605.64 L101.3,604.15 L98.95,605.64 L99.64,602.94 L97.5,601.16 L100.27,600.98Z" fill="#fff" stroke="#a07a1c" stroke-width="1.45" stroke-linejoin="miter"/><path d="M111.1,591.9 L112.13,594.48 L114.9,594.66 L112.76,596.44 L113.45,599.14 L111.1,597.65 L108.75,599.14 L109.44,596.44 L107.3,594.66 L110.07,594.48Z" fill="#fff" stroke="#a07a1c" stroke-width="1.45" stroke-linejoin="miter"/><path d="M119.2,587.5 L120.23,590.08 L123,590.26 L120.86,592.04 L121.55,594.74 L119.2,593.25 L116.85,594.74 L117.54,592.04 L115.4,590.26 L118.17,590.08Z" fill="#fff" stroke="#a07a1c" stroke-width="1.45" stroke-linejoin="miter"/><path d="M126.8,583.8 L127.83,586.38 L130.6,586.56 L128.46,588.34 L129.15,591.04 L126.8,589.55 L124.45,591.04 L125.14,588.34 L123,586.56 L125.77,586.38Z" fill="#fff" stroke="#a07a1c" stroke-width="1.45" stroke-linejoin="miter"/><path d="M134.9,580.4 L135.93,582.98 L138.7,583.16 L136.56,584.94 L137.25,587.64 L134.9,586.15 L132.55,587.64 L133.24,584.94 L131.1,583.16 L133.87,582.98Z" fill="#fff" stroke="#a07a1c" stroke-width="1.45" stroke-linejoin="miter"/><path d="M142.2,576.2 L143.23,578.78 L146,578.96 L143.86,580.74 L144.55,583.44 L142.2,581.95 L139.85,583.44 L140.54,580.74 L138.4,578.96 L141.17,578.78Z" fill="#fff" stroke="#a07a1c" stroke-width="1.45" stroke-linejoin="miter"/><path d="M147.8,571.9 L148.83,574.48 L151.6,574.66 L149.46,576.44 L150.15,579.14 L147.8,577.65 L145.45,579.14 L146.14,576.44 L144,574.66 L146.77,574.48Z" fill="#fff" stroke="#a07a1c" stroke-width="1.45" stroke-linejoin="miter"/><path d="M153.3,568.4 L154.33,570.98 L157.1,571.16 L154.96,572.94 L155.65,575.64 L153.3,574.15 L150.95,575.64 L151.64,572.94 L149.5,571.16 L152.27,570.98Z" fill="#fff" stroke="#a07a1c" stroke-width="1.45" stroke-linejoin="miter"/><path d="M159,565.5 L160.03,568.08 L162.8,568.26 L160.66,570.04 L161.35,572.74 L159,571.25 L156.65,572.74 L157.34,570.04 L155.2,568.26 L157.97,568.08Z" fill="#fff" stroke="#a07a1c" stroke-width="1.45" stroke-linejoin="miter"/><path d="M164.8,562.6 L165.83,565.18 L168.6,565.36 L166.46,567.14 L167.15,569.84 L164.8,568.35 L162.45,569.84 L163.14,567.14 L161,565.36 L163.77,565.18Z" fill="#fff" stroke="#a07a1c" stroke-width="1.45" stroke-linejoin="miter"/><path d="M169.9,559.7 L170.93,562.28 L173.7,562.46 L171.56,564.24 L172.25,566.94 L169.9,565.45 L167.55,566.94 L168.24,564.24 L166.1,562.46 L168.87,562.28Z" fill="#fff" stroke="#a07a1c" stroke-width="1.45" stroke-linejoin="miter"/><path d="M175,556.8 L176.03,559.38 L178.8,559.56 L176.66,561.34 L177.35,564.04 L175,562.55 L172.65,564.04 L173.34,561.34 L171.2,559.56 L173.97,559.38Z" fill="#fff" stroke="#a07a1c" stroke-width="1.45" stroke-linejoin="miter"/><path d="M180.1,554.6 L181.13,557.18 L183.9,557.36 L181.76,559.14 L182.45,561.84 L180.1,560.35 L177.75,561.84 L178.44,559.14 L176.3,557.36 L179.07,557.18Z" fill="#fff" stroke="#a07a1c" stroke-width="1.45" stroke-linejoin="miter"/><path d="M185.3,552.4 L186.33,554.98 L189.1,555.16 L186.96,556.94 L187.65,559.64 L185.3,558.15 L182.95,559.64 L183.64,556.94 L181.5,555.16 L184.27,554.98Z" fill="#fff" stroke="#a07a1c" stroke-width="1.45" stroke-linejoin="miter"/><path d="M190.4,550.2 L191.43,552.78 L194.2,552.96 L192.06,554.74 L192.75,557.44 L190.4,555.95 L188.05,557.44 L188.74,554.74 L186.6,552.96 L189.37,552.78Z" fill="#fff" stroke="#a07a1c" stroke-width="1.45" stroke-linejoin="miter"/><path d="M195.5,548.7 L196.53,551.28 L199.3,551.46 L197.16,553.24 L197.85,555.94 L195.5,554.45 L193.15,555.94 L193.84,553.24 L191.7,551.46 L194.47,551.28Z" fill="#fff" stroke="#a07a1c" stroke-width="1.45" stroke-linejoin="miter"/><path d="M199.9,547.3 L200.93,549.88 L203.7,550.06 L201.56,551.84 L202.25,554.54 L199.9,553.05 L197.55,554.54 L198.24,551.84 L196.1,550.06 L198.87,549.88Z" fill="#fff" stroke="#a07a1c" stroke-width="1.45" stroke-linejoin="miter"/><path d="M204.2,545.8 L205.23,548.38 L208,548.56 L205.86,550.34 L206.55,553.04 L204.2,551.55 L201.85,553.04 L202.54,550.34 L200.4,548.56 L203.17,548.38Z" fill="#fff" stroke="#a07a1c" stroke-width="1.45" stroke-linejoin="miter"/><path d="M208.6,544.4 L209.63,546.98 L212.4,547.16 L210.26,548.94 L210.95,551.64 L208.6,550.15 L206.25,551.64 L206.94,548.94 L204.8,547.16 L207.57,546.98Z" fill="#fff" stroke="#a07a1c" stroke-width="1.45" stroke-linejoin="miter"/><path d="M213,542.9 L214.03,545.48 L216.8,545.66 L214.66,547.44 L215.35,550.14 L213,548.65 L210.65,550.14 L211.34,547.44 L209.2,545.66 L211.97,545.48Z" fill="#fff" stroke="#a07a1c" stroke-width="1.45" stroke-linejoin="miter"/><path d="M217.4,541.4 L218.43,543.98 L221.2,544.16 L219.06,545.94 L219.75,548.64 L217.4,547.15 L215.05,548.64 L215.74,545.94 L213.6,544.16 L216.37,543.98Z" fill="#fff" stroke="#a07a1c" stroke-width="1.45" stroke-linejoin="miter"/><path d="M221.8,539.2 L222.83,541.78 L225.6,541.96 L223.46,543.74 L224.15,546.44 L221.8,544.95 L219.45,546.44 L220.14,543.74 L218,541.96 L220.77,541.78Z" fill="#fff" stroke="#a07a1c" stroke-width="1.45" stroke-linejoin="miter"/><path d="M226.1,537.1 L227.13,539.68 L229.9,539.86 L227.76,541.64 L228.45,544.34 L226.1,542.85 L223.75,544.34 L224.44,541.64 L222.3,539.86 L225.07,539.68Z" fill="#fff" stroke="#a07a1c" stroke-width="1.45" stroke-linejoin="miter"/>
<line x1="50" y1="629.9" x2="226.3" y2="535.4" stroke="#ff8000" stroke-width="2.5" stroke-linecap="butt"/>
</g>
<clipPath id="clipD"><rect x="362.4" y="348.4" width="273" height="289.5"/></clipPath>
<g clip-path="url(#clipD)">
<path d="M427.4,470.3 L432.06,473.69 L430.28,479.16 L424.52,479.16 L422.74,473.69Z" fill="#fff" stroke="#111" stroke-width="1.15" stroke-linejoin="miter"/><path d="M454.6,462.3 L459.26,465.69 L457.48,471.16 L451.72,471.16 L449.94,465.69Z" fill="#fff" stroke="#111" stroke-width="1.15" stroke-linejoin="miter"/><path d="M468.1,456.1 L472.76,459.49 L470.98,464.96 L465.22,464.96 L463.44,459.49Z" fill="#fff" stroke="#111" stroke-width="1.15" stroke-linejoin="miter"/><path d="M479.6,449.8 L484.26,453.19 L482.48,458.66 L476.72,458.66 L474.94,453.19Z" fill="#fff" stroke="#111" stroke-width="1.15" stroke-linejoin="miter"/><path d="M489,444 L493.66,447.39 L491.88,452.86 L486.12,452.86 L484.34,447.39Z" fill="#fff" stroke="#111" stroke-width="1.15" stroke-linejoin="miter"/><path d="M497.8,438 L502.46,441.39 L500.68,446.86 L494.92,446.86 L493.14,441.39Z" fill="#fff" stroke="#111" stroke-width="1.15" stroke-linejoin="miter"/><path d="M506.8,435.2 L511.46,438.59 L509.68,444.06 L503.92,444.06 L502.14,438.59Z" fill="#fff" stroke="#111" stroke-width="1.15" stroke-linejoin="miter"/><path d="M514.6,430.7 L519.26,434.09 L517.48,439.56 L511.72,439.56 L509.94,434.09Z" fill="#fff" stroke="#111" stroke-width="1.15" stroke-linejoin="miter"/><path d="M522.2,423.8 L526.86,427.19 L525.08,432.66 L519.32,432.66 L517.54,427.19Z" fill="#fff" stroke="#111" stroke-width="1.15" stroke-linejoin="miter"/><path d="M528.6,420.2 L533.26,423.59 L531.48,429.06 L525.72,429.06 L523.94,423.59Z" fill="#fff" stroke="#111" stroke-width="1.15" stroke-linejoin="miter"/><path d="M534.8,417 L539.46,420.39 L537.68,425.86 L531.92,425.86 L530.14,420.39Z" fill="#fff" stroke="#111" stroke-width="1.15" stroke-linejoin="miter"/><path d="M540.8,413.9 L545.46,417.29 L543.68,422.76 L537.92,422.76 L536.14,417.29Z" fill="#fff" stroke="#111" stroke-width="1.15" stroke-linejoin="miter"/><path d="M546.5,411.2 L551.16,414.59 L549.38,420.06 L543.62,420.06 L541.84,414.59Z" fill="#fff" stroke="#111" stroke-width="1.15" stroke-linejoin="miter"/><path d="M552.8,409.7 L557.46,413.09 L555.68,418.56 L549.92,418.56 L548.14,413.09Z" fill="#fff" stroke="#111" stroke-width="1.15" stroke-linejoin="miter"/><path d="M558.9,408.6 L563.56,411.99 L561.78,417.46 L556.02,417.46 L554.24,411.99Z" fill="#fff" stroke="#111" stroke-width="1.15" stroke-linejoin="miter"/><path d="M564.6,406.1 L569.26,409.49 L567.48,414.96 L561.72,414.96 L559.94,409.49Z" fill="#fff" stroke="#111" stroke-width="1.15" stroke-linejoin="miter"/><path d="M569.8,404.5 L574.46,407.89 L572.68,413.36 L566.92,413.36 L565.14,407.89Z" fill="#fff" stroke="#111" stroke-width="1.15" stroke-linejoin="miter"/><path d="M575,403.7 L579.66,407.09 L577.88,412.56 L572.12,412.56 L570.34,407.09Z" fill="#fff" stroke="#111" stroke-width="1.15" stroke-linejoin="miter"/><path d="M580.1,401.3 L584.76,404.69 L582.98,410.16 L577.22,410.16 L575.44,404.69Z" fill="#fff" stroke="#111" stroke-width="1.15" stroke-linejoin="miter"/><path d="M585.3,399.3 L589.96,402.69 L588.18,408.16 L582.42,408.16 L580.64,402.69Z" fill="#fff" stroke="#111" stroke-width="1.15" stroke-linejoin="miter"/><path d="M590.4,398.9 L595.06,402.29 L593.28,407.76 L587.52,407.76 L585.74,402.29Z" fill="#fff" stroke="#111" stroke-width="1.15" stroke-linejoin="miter"/><path d="M595.8,398.2 L600.46,401.59 L598.68,407.06 L592.92,407.06 L591.14,401.59Z" fill="#fff" stroke="#111" stroke-width="1.15" stroke-linejoin="miter"/><path d="M600.6,397 L605.26,400.39 L603.48,405.86 L597.72,405.86 L595.94,400.39Z" fill="#fff" stroke="#111" stroke-width="1.15" stroke-linejoin="miter"/><path d="M605.7,397 L610.36,400.39 L608.58,405.86 L602.82,405.86 L601.04,400.39Z" fill="#fff" stroke="#111" stroke-width="1.15" stroke-linejoin="miter"/><path d="M610.1,397.7 L614.76,401.09 L612.98,406.56 L607.22,406.56 L605.44,401.09Z" fill="#fff" stroke="#111" stroke-width="1.15" stroke-linejoin="miter"/><path d="M614.5,398.4 L619.16,401.79 L617.38,407.26 L611.62,407.26 L609.84,401.79Z" fill="#fff" stroke="#111" stroke-width="1.15" stroke-linejoin="miter"/><path d="M619.6,399.2 L624.26,402.59 L622.48,408.06 L616.72,408.06 L614.94,402.59Z" fill="#fff" stroke="#111" stroke-width="1.15" stroke-linejoin="miter"/><path d="M624.7,399.9 L629.36,403.29 L627.58,408.76 L621.82,408.76 L620.04,403.29Z" fill="#fff" stroke="#111" stroke-width="1.15" stroke-linejoin="miter"/>
<line x1="426.4" y1="479.3" x2="626.1" y2="380.5" stroke="#f03c3c" stroke-width="2.5" stroke-linecap="butt"/>
<path d="M426.4,511.4 L431,519.6 L421.8,519.6 Z" fill="#fff" stroke="#0000ff" stroke-width="1.15" stroke-linejoin="miter"/><path d="M453,504.2 L457.6,512.4 L448.4,512.4 Z" fill="#fff" stroke="#0000ff" stroke-width="1.15" stroke-linejoin="miter"/><path d="M466.8,497.6 L471.4,505.8 L462.2,505.8 Z" fill="#fff" stroke="#0000ff" stroke-width="1.15" stroke-linejoin="miter"/><path d="M478,491.5 L482.6,499.7 L473.4,499.7 Z" fill="#fff" stroke="#0000ff" stroke-width="1.15" stroke-linejoin="miter"/><path d="M487.9,484.9 L492.5,493.1 L483.3,493.1 Z" fill="#fff" stroke="#0000ff" stroke-width="1.15" stroke-linejoin="miter"/><path d="M497.4,479.8 L502,488 L492.8,488 Z" fill="#fff" stroke="#0000ff" stroke-width="1.15" stroke-linejoin="miter"/><path d="M505.5,473.6 L510.1,481.8 L500.9,481.8 Z" fill="#fff" stroke="#0000ff" stroke-width="1.15" stroke-linejoin="miter"/><path d="M513.5,467.9 L518.1,476.1 L508.9,476.1 Z" fill="#fff" stroke="#0000ff" stroke-width="1.15" stroke-linejoin="miter"/><path d="M521.5,467.4 L526.1,475.6 L516.9,475.6 Z" fill="#fff" stroke="#0000ff" stroke-width="1.15" stroke-linejoin="miter"/><path d="M527.3,463.9 L531.9,472.1 L522.7,472.1 Z" fill="#fff" stroke="#0000ff" stroke-width="1.15" stroke-linejoin="miter"/><path d="M532,460.9 L536.6,469.1 L527.4,469.1 Z" fill="#fff" stroke="#0000ff" stroke-width="1.15" stroke-linejoin="miter"/><path d="M538.5,458.4 L543.1,466.6 L533.9,466.6 Z" fill="#fff" stroke="#0000ff" stroke-width="1.15" stroke-linejoin="miter"/><path d="M543.8,455.4 L548.4,463.6 L539.2,463.6 Z" fill="#fff" stroke="#0000ff" stroke-width="1.15" stroke-linejoin="miter"/><path d="M549,453.4 L553.6,461.6 L544.4,461.6 Z" fill="#fff" stroke="#0000ff" stroke-width="1.15" stroke-linejoin="miter"/><path d="M554.3,451.7 L558.9,459.9 L549.7,459.9 Z" fill="#fff" stroke="#0000ff" stroke-width="1.15" stroke-linejoin="miter"/><path d="M559.6,450.4 L564.2,458.6 L555,458.6 Z" fill="#fff" stroke="#0000ff" stroke-width="1.15" stroke-linejoin="miter"/><path d="M564.4,449.7 L569,457.9 L559.8,457.9 Z" fill="#fff" stroke="#0000ff" stroke-width="1.15" stroke-linejoin="miter"/><path d="M569.2,447.2 L573.8,455.4 L564.6,455.4 Z" fill="#fff" stroke="#0000ff" stroke-width="1.15" stroke-linejoin="miter"/><path d="M573.4,445.2 L578,453.4 L568.8,453.4 Z" fill="#fff" stroke="#0000ff" stroke-width="1.15" stroke-linejoin="miter"/><path d="M577.3,443.9 L581.9,452.1 L572.7,452.1 Z" fill="#fff" stroke="#0000ff" stroke-width="1.15" stroke-linejoin="miter"/><path d="M580.6,442.7 L585.2,450.9 L576,450.9 Z" fill="#fff" stroke="#0000ff" stroke-width="1.15" stroke-linejoin="miter"/><path d="M583.5,442.2 L588.1,450.4 L578.9,450.4 Z" fill="#fff" stroke="#0000ff" stroke-width="1.15" stroke-linejoin="miter"/><path d="M586.5,440.2 L591.1,448.4 L581.9,448.4 Z" fill="#fff" stroke="#0000ff" stroke-width="1.15" stroke-linejoin="miter"/><path d="M589.5,439.7 L594.1,447.9 L584.9,447.9 Z" fill="#fff" stroke="#0000ff" stroke-width="1.15" stroke-linejoin="miter"/><path d="M592.5,439.2 L597.1,447.4 L587.9,447.4 Z" fill="#fff" stroke="#0000ff" stroke-width="1.15" stroke-linejoin="miter"/><path d="M595.5,438.7 L600.1,446.9 L590.9,446.9 Z" fill="#fff" stroke="#0000ff" stroke-width="1.15" stroke-linejoin="miter"/><path d="M598.5,438.2 L603.1,446.4 L593.9,446.4 Z" fill="#fff" stroke="#0000ff" stroke-width="1.15" stroke-linejoin="miter"/><path d="M601.5,437.7 L606.1,445.9 L596.9,445.9 Z" fill="#fff" stroke="#0000ff" stroke-width="1.15" stroke-linejoin="miter"/><path d="M604.5,437.2 L609.1,445.4 L599.9,445.4 Z" fill="#fff" stroke="#0000ff" stroke-width="1.15" stroke-linejoin="miter"/><path d="M611.8,434.9 L616.4,443.1 L607.2,443.1 Z" fill="#fff" stroke="#0000ff" stroke-width="1.15" stroke-linejoin="miter"/>
<line x1="426.4" y1="520.6" x2="611.5" y2="429.6" stroke="#ff8000" stroke-width="2.5" stroke-linecap="butt"/>
<path d="M417.2,552.5 L422.1,557.4 L417.2,562.3 L412.3,557.4 Z" fill="#fff" stroke="#8000ff" stroke-width="1.15" stroke-linejoin="miter"/><path d="M445.2,544.1 L450.1,549 L445.2,553.9 L440.3,549 Z" fill="#fff" stroke="#8000ff" stroke-width="1.15" stroke-linejoin="miter"/><path d="M460.4,537.5 L465.3,542.4 L460.4,547.3 L455.5,542.4 Z" fill="#fff" stroke="#8000ff" stroke-width="1.15" stroke-linejoin="miter"/><path d="M473,530.8 L477.9,535.7 L473,540.6 L468.1,535.7 Z" fill="#fff" stroke="#8000ff" stroke-width="1.15" stroke-linejoin="miter"/><path d="M484.2,524.8 L489.1,529.7 L484.2,534.6 L479.3,529.7 Z" fill="#fff" stroke="#8000ff" stroke-width="1.15" stroke-linejoin="miter"/><path d="M494.3,518.9 L499.2,523.8 L494.3,528.7 L489.4,523.8 Z" fill="#fff" stroke="#8000ff" stroke-width="1.15" stroke-linejoin="miter"/><path d="M501.5,513.8 L506.4,518.7 L501.5,523.6 L496.6,518.7 Z" fill="#fff" stroke="#8000ff" stroke-width="1.15" stroke-linejoin="miter"/><path d="M509.6,507.7 L514.5,512.6 L509.6,517.5 L504.7,512.6 Z" fill="#fff" stroke="#8000ff" stroke-width="1.15" stroke-linejoin="miter"/><path d="M517.8,503.6 L522.7,508.5 L517.8,513.4 L512.9,508.5 Z" fill="#fff" stroke="#8000ff" stroke-width="1.15" stroke-linejoin="miter"/><path d="M526,499.5 L530.9,504.4 L526,509.3 L521.1,504.4 Z" fill="#fff" stroke="#8000ff" stroke-width="1.15" stroke-linejoin="miter"/><path d="M534.2,495.4 L539.1,500.3 L534.2,505.2 L529.3,500.3 Z" fill="#fff" stroke="#8000ff" stroke-width="1.15" stroke-linejoin="miter"/><path d="M542.3,490.3 L547.2,495.2 L542.3,500.1 L537.4,495.2 Z" fill="#fff" stroke="#8000ff" stroke-width="1.15" stroke-linejoin="miter"/><path d="M550.5,485.2 L555.4,490.1 L550.5,495 L545.6,490.1 Z" fill="#fff" stroke="#8000ff" stroke-width="1.15" stroke-linejoin="miter"/><path d="M557.7,483.1 L562.6,488 L557.7,492.9 L552.8,488 Z" fill="#fff" stroke="#8000ff" stroke-width="1.15" stroke-linejoin="miter"/><path d="M564.8,481.1 L569.7,486 L564.8,490.9 L559.9,486 Z" fill="#fff" stroke="#8000ff" stroke-width="1.15" stroke-linejoin="miter"/><path d="M572,478 L576.9,482.9 L572,487.8 L567.1,482.9 Z" fill="#fff" stroke="#8000ff" stroke-width="1.15" stroke-linejoin="miter"/><path d="M579.1,476 L584,480.9 L579.1,485.8 L574.2,480.9 Z" fill="#fff" stroke="#8000ff" stroke-width="1.15" stroke-linejoin="miter"/><path d="M585.3,476 L590.2,480.9 L585.3,485.8 L580.4,480.9 Z" fill="#fff" stroke="#8000ff" stroke-width="1.15" stroke-linejoin="miter"/><path d="M591.4,473.9 L596.3,478.8 L591.4,483.7 L586.5,478.8 Z" fill="#fff" stroke="#8000ff" stroke-width="1.15" stroke-linejoin="miter"/><path d="M597.5,471.9 L602.4,476.8 L597.5,481.7 L592.6,476.8 Z" fill="#fff" stroke="#8000ff" stroke-width="1.15" stroke-linejoin="miter"/><path d="M603.6,469.8 L608.5,474.7 L603.6,479.6 L598.7,474.7 Z" fill="#fff" stroke="#8000ff" stroke-width="1.15" stroke-linejoin="miter"/>
<line x1="416.5" y1="563.7" x2="603.6" y2="466.6" stroke="#ff8000" stroke-width="2.5" stroke-linecap="butt"/>
<path d="M362.2,602.8 L365.95,604.85 L365.95,608.95 L362.2,611 L358.45,608.95 L358.45,604.85Z" fill="#fff" stroke="#ff0000" stroke-width="1.15" stroke-linejoin="miter"/><path d="M395.2,589.5 L398.95,591.55 L398.95,595.65 L395.2,597.7 L391.45,595.65 L391.45,591.55Z" fill="#fff" stroke="#ff0000" stroke-width="1.15" stroke-linejoin="miter"/><path d="M417.2,580 L420.95,582.05 L420.95,586.15 L417.2,588.2 L413.45,586.15 L413.45,582.05Z" fill="#fff" stroke="#ff0000" stroke-width="1.15" stroke-linejoin="miter"/><path d="M434.3,572 L438.05,574.05 L438.05,578.15 L434.3,580.2 L430.55,578.15 L430.55,574.05Z" fill="#fff" stroke="#ff0000" stroke-width="1.15" stroke-linejoin="miter"/><path d="M449.3,564.9 L453.05,566.95 L453.05,571.05 L449.3,573.1 L445.55,571.05 L445.55,566.95Z" fill="#fff" stroke="#ff0000" stroke-width="1.15" stroke-linejoin="miter"/><path d="M462,558.7 L465.75,560.75 L465.75,564.85 L462,566.9 L458.25,564.85 L458.25,560.75Z" fill="#fff" stroke="#ff0000" stroke-width="1.15" stroke-linejoin="miter"/><path d="M473.2,553.3 L476.95,555.35 L476.95,559.45 L473.2,561.5 L469.45,559.45 L469.45,555.35Z" fill="#fff" stroke="#ff0000" stroke-width="1.15" stroke-linejoin="miter"/><path d="M483,548.6 L486.75,550.65 L486.75,554.75 L483,556.8 L479.25,554.75 L479.25,550.65Z" fill="#fff" stroke="#ff0000" stroke-width="1.15" stroke-linejoin="miter"/><path d="M491.2,544.2 L494.95,546.25 L494.95,550.35 L491.2,552.4 L487.45,550.35 L487.45,546.25Z" fill="#fff" stroke="#ff0000" stroke-width="1.15" stroke-linejoin="miter"/><path d="M499.4,540.1 L503.15,542.15 L503.15,546.25 L499.4,548.3 L495.65,546.25 L495.65,542.15Z" fill="#fff" stroke="#ff0000" stroke-width="1.15" stroke-linejoin="miter"/><path d="M506.6,536 L510.35,538.05 L510.35,542.15 L506.6,544.2 L502.85,542.15 L502.85,538.05Z" fill="#fff" stroke="#ff0000" stroke-width="1.15" stroke-linejoin="miter"/><path d="M513.7,532 L517.45,534.05 L517.45,538.15 L513.7,540.2 L509.95,538.15 L509.95,534.05Z" fill="#fff" stroke="#ff0000" stroke-width="1.15" stroke-linejoin="miter"/><path d="M520.9,528.9 L524.65,530.95 L524.65,535.05 L520.9,537.1 L517.15,535.05 L517.15,530.95Z" fill="#fff" stroke="#ff0000" stroke-width="1.15" stroke-linejoin="miter"/><path d="M529,524.8 L532.75,526.85 L532.75,530.95 L529,533 L525.25,530.95 L525.25,526.85Z" fill="#fff" stroke="#ff0000" stroke-width="1.15" stroke-linejoin="miter"/><path d="M537.2,521.7 L540.95,523.75 L540.95,527.85 L537.2,529.9 L533.45,527.85 L533.45,523.75Z" fill="#fff" stroke="#ff0000" stroke-width="1.15" stroke-linejoin="miter"/><path d="M542.6,519.5 L546.35,521.55 L546.35,525.65 L542.6,527.7 L538.85,525.65 L538.85,521.55Z" fill="#fff" stroke="#ff0000" stroke-width="1.15" stroke-linejoin="miter"/><path d="M549,516.9 L552.75,518.95 L552.75,523.05 L549,525.1 L545.25,523.05 L545.25,518.95Z" fill="#fff" stroke="#ff0000" stroke-width="1.15" stroke-linejoin="miter"/><path d="M554.7,514.5 L558.45,516.55 L558.45,520.65 L554.7,522.7 L550.95,520.65 L550.95,516.55Z" fill="#fff" stroke="#ff0000" stroke-width="1.15" stroke-linejoin="miter"/><path d="M560.3,512.3 L564.05,514.35 L564.05,518.45 L560.3,520.5 L556.55,518.45 L556.55,514.35Z" fill="#fff" stroke="#ff0000" stroke-width="1.15" stroke-linejoin="miter"/><path d="M565.1,510.3 L568.85,512.35 L568.85,516.45 L565.1,518.5 L561.35,516.45 L561.35,512.35Z" fill="#fff" stroke="#ff0000" stroke-width="1.15" stroke-linejoin="miter"/><path d="M569.9,508.3 L573.65,510.35 L573.65,514.45 L569.9,516.5 L566.15,514.45 L566.15,510.35Z" fill="#fff" stroke="#ff0000" stroke-width="1.15" stroke-linejoin="miter"/><path d="M574.7,506.4 L578.45,508.45 L578.45,512.55 L574.7,514.6 L570.95,512.55 L570.95,508.45Z" fill="#fff" stroke="#ff0000" stroke-width="1.15" stroke-linejoin="miter"/><path d="M578.4,504.9 L582.15,506.95 L582.15,511.05 L578.4,513.1 L574.65,511.05 L574.65,506.95Z" fill="#fff" stroke="#ff0000" stroke-width="1.15" stroke-linejoin="miter"/><path d="M582.2,503.3 L585.95,505.35 L585.95,509.45 L582.2,511.5 L578.45,509.45 L578.45,505.35Z" fill="#fff" stroke="#ff0000" stroke-width="1.15" stroke-linejoin="miter"/>
<line x1="361" y1="609.3" x2="582.2" y2="506.4" stroke="#3a3a3a" stroke-width="2.5" stroke-linecap="butt"/>
<path d="M362.2,623.2 L363.23,625.78 L366,625.96 L363.86,627.74 L364.55,630.44 L362.2,628.95 L359.85,630.44 L360.54,627.74 L358.4,625.96 L361.17,625.78Z" fill="#fff" stroke="#a0a01e" stroke-width="1.45" stroke-linejoin="miter"/><path d="M382.5,614.1 L383.53,616.68 L386.3,616.86 L384.16,618.64 L384.85,621.34 L382.5,619.85 L380.15,621.34 L380.84,618.64 L378.7,616.86 L381.47,616.68Z" fill="#fff" stroke="#a0a01e" stroke-width="1.45" stroke-linejoin="miter"/><path d="M401.5,607 L402.53,609.58 L405.3,609.76 L403.16,611.54 L403.85,614.24 L401.5,612.75 L399.15,614.24 L399.84,611.54 L397.7,609.76 L400.47,609.58Z" fill="#fff" stroke="#a0a01e" stroke-width="1.45" stroke-linejoin="miter"/><path d="M417.2,601 L418.23,603.58 L421,603.76 L418.86,605.54 L419.55,608.24 L417.2,606.75 L414.85,608.24 L415.54,605.54 L413.4,603.76 L416.17,603.58Z" fill="#fff" stroke="#a0a01e" stroke-width="1.45" stroke-linejoin="miter"/><path d="M430.5,595.7 L431.53,598.28 L434.3,598.46 L432.16,600.24 L432.85,602.94 L430.5,601.45 L428.15,602.94 L428.84,600.24 L426.7,598.46 L429.47,598.28Z" fill="#fff" stroke="#a0a01e" stroke-width="1.45" stroke-linejoin="miter"/><path d="M442.7,590.9 L443.73,593.48 L446.5,593.66 L444.36,595.44 L445.05,598.14 L442.7,596.65 L440.35,598.14 L441.04,595.44 L438.9,593.66 L441.67,593.48Z" fill="#fff" stroke="#a0a01e" stroke-width="1.45" stroke-linejoin="miter"/><path d="M453.3,587.1 L454.33,589.68 L457.1,589.86 L454.96,591.64 L455.65,594.34 L453.3,592.85 L450.95,594.34 L451.64,591.64 L449.5,589.86 L452.27,589.68Z" fill="#fff" stroke="#a0a01e" stroke-width="1.45" stroke-linejoin="miter"/><path d="M463.2,582.9 L464.23,585.48 L467,585.66 L464.86,587.44 L465.55,590.14 L463.2,588.65 L460.85,590.14 L461.54,587.44 L459.4,585.66 L462.17,585.48Z" fill="#fff" stroke="#a0a01e" stroke-width="1.45" stroke-linejoin="miter"/><path d="M472.6,578.6 L473.63,581.18 L476.4,581.36 L474.26,583.14 L474.95,585.84 L472.6,584.35 L470.25,585.84 L470.94,583.14 L468.8,581.36 L471.57,581.18Z" fill="#fff" stroke="#a0a01e" stroke-width="1.45" stroke-linejoin="miter"/><path d="M481.5,573.9 L482.53,576.48 L485.3,576.66 L483.16,578.44 L483.85,581.14 L481.5,579.65 L479.15,581.14 L479.84,578.44 L477.7,576.66 L480.47,576.48Z" fill="#fff" stroke="#a0a01e" stroke-width="1.45" stroke-linejoin="miter"/><path d="M490,568.4 L491.03,570.98 L493.8,571.16 L491.66,572.94 L492.35,575.64 L490,574.15 L487.65,575.64 L488.34,572.94 L486.2,571.16 L488.97,570.98Z" fill="#fff" stroke="#a0a01e" stroke-width="1.45" stroke-linejoin="miter"/><path d="M497.5,564.4 L498.53,566.98 L501.3,567.16 L499.16,568.94 L499.85,571.64 L497.5,570.15 L495.15,571.64 L495.84,568.94 L493.7,567.16 L496.47,566.98Z" fill="#fff" stroke="#a0a01e" stroke-width="1.45" stroke-linejoin="miter"/><path d="M504.5,561.4 L505.53,563.98 L508.3,564.16 L506.16,565.94 L506.85,568.64 L504.5,567.15 L502.15,568.64 L502.84,565.94 L500.7,564.16 L503.47,563.98Z" fill="#fff" stroke="#a0a01e" stroke-width="1.45" stroke-linejoin="miter"/><path d="M511.5,558.9 L512.53,561.48 L515.3,561.66 L513.16,563.44 L513.85,566.14 L511.5,564.65 L509.15,566.14 L509.84,563.44 L507.7,561.66 L510.47,561.48Z" fill="#fff" stroke="#a0a01e" stroke-width="1.45" stroke-linejoin="miter"/><path d="M518.5,556.2 L519.53,558.78 L522.3,558.96 L520.16,560.74 L520.85,563.44 L518.5,561.95 L516.15,563.44 L516.84,560.74 L514.7,558.96 L517.47,558.78Z" fill="#fff" stroke="#a0a01e" stroke-width="1.45" stroke-linejoin="miter"/><path d="M525,552.9 L526.03,555.48 L528.8,555.66 L526.66,557.44 L527.35,560.14 L525,558.65 L522.65,560.14 L523.34,557.44 L521.2,555.66 L523.97,555.48Z" fill="#fff" stroke="#a0a01e" stroke-width="1.45" stroke-linejoin="miter"/><path d="M532.1,549.8 L533.13,552.38 L535.9,552.56 L533.76,554.34 L534.45,557.04 L532.1,555.55 L529.75,557.04 L530.44,554.34 L528.3,552.56 L531.07,552.38Z" fill="#fff" stroke="#a0a01e" stroke-width="1.45" stroke-linejoin="miter"/><path d="M539.3,546.8 L540.33,549.38 L543.1,549.56 L540.96,551.34 L541.65,554.04 L539.3,552.55 L536.95,554.04 L537.64,551.34 L535.5,549.56 L538.27,549.38Z" fill="#fff" stroke="#a0a01e" stroke-width="1.45" stroke-linejoin="miter"/><path d="M545.4,543.7 L546.43,546.28 L549.2,546.46 L547.06,548.24 L547.75,550.94 L545.4,549.45 L543.05,550.94 L543.74,548.24 L541.6,546.46 L544.37,546.28Z" fill="#fff" stroke="#a0a01e" stroke-width="1.45" stroke-linejoin="miter"/><path d="M550.5,540.6 L551.53,543.18 L554.3,543.36 L552.16,545.14 L552.85,547.84 L550.5,546.35 L548.15,547.84 L548.84,545.14 L546.7,543.36 L549.47,543.18Z" fill="#fff" stroke="#a0a01e" stroke-width="1.45" stroke-linejoin="miter"/><path d="M555.6,536.5 L556.63,539.08 L559.4,539.26 L557.26,541.04 L557.95,543.74 L555.6,542.25 L553.25,543.74 L553.94,541.04 L551.8,539.26 L554.57,539.08Z" fill="#fff" stroke="#a0a01e" stroke-width="1.45" stroke-linejoin="miter"/>
<line x1="361" y1="624.8" x2="556.6" y2="553.4" stroke="#ff8000" stroke-width="2.5" stroke-linecap="butt"/>
</g>
<path d="M326.5,469.8 L331.16,473.19 L329.38,478.66 L323.62,478.66 L321.84,473.19Z" fill="#fff" stroke="#111" stroke-width="1.15" stroke-linejoin="miter"/>
<path d="M326.5,492.2 L331.1,500.4 L321.9,500.4 Z" fill="#fff" stroke="#0000ff" stroke-width="1.15" stroke-linejoin="miter"/>
<path d="M326.5,513.9 L331.4,518.8 L326.5,523.7 L321.6,518.8 Z" fill="#fff" stroke="#8000ff" stroke-width="1.15" stroke-linejoin="miter"/>
<path d="M326.5,537.2 L330.25,539.25 L330.25,543.35 L326.5,545.4 L322.75,543.35 L322.75,539.25Z" fill="#fff" stroke="#ff0000" stroke-width="1.15" stroke-linejoin="miter"/>
<path d="M326.5,559.6 L327.53,562.18 L330.3,562.36 L328.16,564.14 L328.85,566.84 L326.5,565.35 L324.15,566.84 L324.84,564.14 L322.7,562.36 L325.47,562.18Z" fill="#fff" stroke="#a0a030" stroke-width="1.45" stroke-linejoin="miter"/>
<text x="351.4" y="481.1" text-anchor="start" font-size="18">4.2 K</text>
<text x="351.4" y="503.2" text-anchor="start" font-size="18">20.5 K</text>
<text x="351.4" y="525.7" text-anchor="start" font-size="18">50 K</text>
<text x="351.4" y="548.2" text-anchor="start" font-size="18">100 K</text>
<text x="351.4" y="570.1" text-anchor="start" font-size="18">150 K</text>
<line x1="217.9" y1="182.3" x2="258.9" y2="182.3" stroke="#bdbdbd" stroke-width="1.3"/>
<text x="263.4" y="188.5" text-anchor="start" font-size="18">4.2 K</text>
<line x1="217.9" y1="204.4" x2="258.9" y2="204.4" stroke="#ff9a9a" stroke-width="1.3"/>
<text x="263.4" y="210.6" text-anchor="start" font-size="18">20.5 K</text>
<line x1="217.9" y1="226.5" x2="258.9" y2="226.5" stroke="#8c8cff" stroke-width="1.3"/>
<text x="263.4" y="232.7" text-anchor="start" font-size="18">50 K</text>
<line x1="217.9" y1="248.5" x2="258.9" y2="248.5" stroke="#ffc48c" stroke-width="1.3"/>
<text x="263.4" y="254.7" text-anchor="start" font-size="18">100 K</text>
<line x1="217.9" y1="270.8" x2="258.9" y2="270.8" stroke="#dcdcb8" stroke-width="2"/>
<text x="263.4" y="277" text-anchor="start" font-size="18">150 K</text>
<rect x="236.2" y="180.2" width="4.6" height="4.2" fill="#000"/>
<circle cx="238.5" cy="204.4" r="2.5" fill="#ff0000"/>
<path d="M238.5,223.7 L241.2,228.4 L235.8,228.4 Z" fill="#0000ff"/>
<path d="M238.5,251.5 L241.2,246.7 L235.8,246.7 Z" fill="#ff8000"/>
<path d="M238.5,267.9 L241.2,270.8 L238.5,273.7 L235.8,270.8 Z" fill="#808000"/>
</svg></body></html>
